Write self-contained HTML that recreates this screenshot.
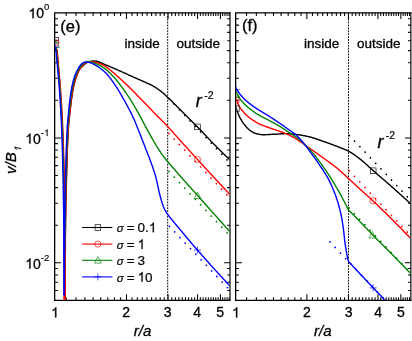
<!DOCTYPE html>
<html><head><meta charset="utf-8"><title>chart</title><style>html,body{margin:0;padding:0;background:#fff}body{width:412px;height:341px;overflow:hidden;font-family:"Liberation Sans",sans-serif}svg{will-change:transform}</style></head><body>
<svg width="412" height="341" viewBox="0 0 412 341" style="display:block" font-family="Liberation Sans, sans-serif" fill="#000"><style>text{stroke:#000;stroke-width:0.3px;stroke-linejoin:round}tspan,.s{stroke-width:0.15px}.l{stroke-width:0.2px}</style>
<rect width="412" height="341" fill="#fff"/>
<defs><clipPath id="ce"><rect x="55.3" y="13.5" width="174.1" height="286.2"/></clipPath><clipPath id="cf"><rect x="236.3" y="13.5" width="173.6" height="286.2"/></clipPath></defs>
<path d="M54.65,12.85 V300.35 H230.00 M54.65,12.85 H230.00" fill="none" stroke="#000" stroke-width="1.30" stroke-linecap="square"/><path d="M230.00,12.85 V300.35" fill="none" stroke="#000" stroke-width="1.15"/><path d="M54.65,137.90 h6.4 M230.00,137.90 h-5.9 M54.65,100.30 h3.3 M230.00,100.30 h-2.8 M54.65,78.31 h3.3 M230.00,78.31 h-2.8 M54.65,62.70 h3.3 M230.00,62.70 h-2.8 M54.65,50.60 h3.3 M230.00,50.60 h-2.8 M54.65,40.71 h3.3 M230.00,40.71 h-2.8 M54.65,32.35 h3.3 M230.00,32.35 h-2.8 M54.65,25.10 h3.3 M230.00,25.10 h-2.8 M54.65,18.72 h3.3 M230.00,18.72 h-2.8 M54.65,262.80 h6.4 M230.00,262.80 h-5.9 M54.65,225.20 h3.3 M230.00,225.20 h-2.8 M54.65,203.21 h3.3 M230.00,203.21 h-2.8 M54.65,187.60 h3.3 M230.00,187.60 h-2.8 M54.65,175.50 h3.3 M230.00,175.50 h-2.8 M54.65,165.61 h3.3 M230.00,165.61 h-2.8 M54.65,157.25 h3.3 M230.00,157.25 h-2.8 M54.65,150.00 h3.3 M230.00,150.00 h-2.8 M54.65,143.62 h3.3 M230.00,143.62 h-2.8 M54.65,290.51 h3.3 M230.00,290.51 h-2.8 M54.65,282.15 h3.3 M230.00,282.15 h-2.8 M54.65,274.90 h3.3 M230.00,274.90 h-2.8 M54.65,268.52 h3.3 M230.00,268.52 h-2.8 M66.20,12.85 v3.2 M66.20,300.35 v-3.2 M75.98,12.85 v3.2 M75.98,300.35 v-3.2 M84.90,12.85 v3.2 M84.90,300.35 v-3.2 M93.11,12.85 v3.2 M93.11,300.35 v-3.2 M100.70,12.85 v3.2 M100.70,300.35 v-3.2 M107.78,12.85 v3.2 M107.78,300.35 v-3.2 M114.40,12.85 v3.2 M114.40,300.35 v-3.2 M120.61,12.85 v3.2 M120.61,300.35 v-3.2 M126.47,12.85 v6.2 M126.47,300.35 v-6.2 M132.02,12.85 v3.2 M132.02,300.35 v-3.2 M137.28,12.85 v3.2 M137.28,300.35 v-3.2 M142.28,12.85 v3.2 M142.28,300.35 v-3.2 M147.05,12.85 v3.2 M147.05,300.35 v-3.2 M151.61,12.85 v3.2 M151.61,300.35 v-3.2 M155.97,12.85 v3.2 M155.97,300.35 v-3.2 M160.16,12.85 v3.2 M160.16,300.35 v-3.2 M164.18,12.85 v3.2 M164.18,300.35 v-3.2 M168.05,12.85 v6.2 M168.05,300.35 v-6.2 M171.78,12.85 v3.2 M171.78,300.35 v-3.2 M175.38,12.85 v3.2 M175.38,300.35 v-3.2 M178.85,12.85 v3.2 M178.85,300.35 v-3.2 M182.21,12.85 v3.2 M182.21,300.35 v-3.2 M185.47,12.85 v3.2 M185.47,300.35 v-3.2 M188.62,12.85 v3.2 M188.62,300.35 v-3.2 M191.69,12.85 v3.2 M191.69,300.35 v-3.2 M194.66,12.85 v3.2 M194.66,300.35 v-3.2 M197.55,12.85 v6.2 M197.55,300.35 v-6.2 M200.36,12.85 v3.2 M200.36,300.35 v-3.2 M203.09,12.85 v3.2 M203.09,300.35 v-3.2 M205.75,12.85 v3.2 M205.75,300.35 v-3.2 M208.35,12.85 v3.2 M208.35,300.35 v-3.2 M210.88,12.85 v3.2 M210.88,300.35 v-3.2 M213.35,12.85 v3.2 M213.35,300.35 v-3.2 M215.77,12.85 v3.2 M215.77,300.35 v-3.2 M218.12,12.85 v3.2 M218.12,300.35 v-3.2 M220.43,12.85 v6.2 M220.43,300.35 v-6.2 M222.68,12.85 v3.2 M222.68,300.35 v-3.2 M224.89,12.85 v3.2 M224.89,300.35 v-3.2 M227.04,12.85 v3.2 M227.04,300.35 v-3.2 M229.16,12.85 v3.2 M229.16,300.35 v-3.2 " stroke="#000" stroke-width="1.05" fill="none"/>
<path d="M235.65,12.85 V300.35 H410.85 M235.65,12.85 H410.85" fill="none" stroke="#000" stroke-width="1.30" stroke-linecap="square"/><path d="M410.85,12.85 V300.35" fill="none" stroke="#000" stroke-width="1.15"/><path d="M235.65,137.90 h6.4 M410.85,137.90 h-5.9 M235.65,100.30 h3.3 M410.85,100.30 h-2.8 M235.65,78.31 h3.3 M410.85,78.31 h-2.8 M235.65,62.70 h3.3 M410.85,62.70 h-2.8 M235.65,50.60 h3.3 M410.85,50.60 h-2.8 M235.65,40.71 h3.3 M410.85,40.71 h-2.8 M235.65,32.35 h3.3 M410.85,32.35 h-2.8 M235.65,25.10 h3.3 M410.85,25.10 h-2.8 M235.65,18.72 h3.3 M410.85,18.72 h-2.8 M235.65,262.80 h6.4 M410.85,262.80 h-5.9 M235.65,225.20 h3.3 M410.85,225.20 h-2.8 M235.65,203.21 h3.3 M410.85,203.21 h-2.8 M235.65,187.60 h3.3 M410.85,187.60 h-2.8 M235.65,175.50 h3.3 M410.85,175.50 h-2.8 M235.65,165.61 h3.3 M410.85,165.61 h-2.8 M235.65,157.25 h3.3 M410.85,157.25 h-2.8 M235.65,150.00 h3.3 M410.85,150.00 h-2.8 M235.65,143.62 h3.3 M410.85,143.62 h-2.8 M235.65,290.51 h3.3 M410.85,290.51 h-2.8 M235.65,282.15 h3.3 M410.85,282.15 h-2.8 M235.65,274.90 h3.3 M410.85,274.90 h-2.8 M235.65,268.52 h3.3 M410.85,268.52 h-2.8 M246.60,12.85 v3.2 M246.60,300.35 v-3.2 M256.38,12.85 v3.2 M256.38,300.35 v-3.2 M265.30,12.85 v3.2 M265.30,300.35 v-3.2 M273.51,12.85 v3.2 M273.51,300.35 v-3.2 M281.10,12.85 v3.2 M281.10,300.35 v-3.2 M288.18,12.85 v3.2 M288.18,300.35 v-3.2 M294.80,12.85 v3.2 M294.80,300.35 v-3.2 M301.01,12.85 v3.2 M301.01,300.35 v-3.2 M306.87,12.85 v6.2 M306.87,300.35 v-6.2 M312.42,12.85 v3.2 M312.42,300.35 v-3.2 M317.68,12.85 v3.2 M317.68,300.35 v-3.2 M322.68,12.85 v3.2 M322.68,300.35 v-3.2 M327.45,12.85 v3.2 M327.45,300.35 v-3.2 M332.01,12.85 v3.2 M332.01,300.35 v-3.2 M336.37,12.85 v3.2 M336.37,300.35 v-3.2 M340.56,12.85 v3.2 M340.56,300.35 v-3.2 M344.58,12.85 v3.2 M344.58,300.35 v-3.2 M348.45,12.85 v6.2 M348.45,300.35 v-6.2 M352.18,12.85 v3.2 M352.18,300.35 v-3.2 M355.78,12.85 v3.2 M355.78,300.35 v-3.2 M359.25,12.85 v3.2 M359.25,300.35 v-3.2 M362.61,12.85 v3.2 M362.61,300.35 v-3.2 M365.87,12.85 v3.2 M365.87,300.35 v-3.2 M369.02,12.85 v3.2 M369.02,300.35 v-3.2 M372.09,12.85 v3.2 M372.09,300.35 v-3.2 M375.06,12.85 v3.2 M375.06,300.35 v-3.2 M377.95,12.85 v6.2 M377.95,300.35 v-6.2 M380.76,12.85 v3.2 M380.76,300.35 v-3.2 M383.49,12.85 v3.2 M383.49,300.35 v-3.2 M386.15,12.85 v3.2 M386.15,300.35 v-3.2 M388.75,12.85 v3.2 M388.75,300.35 v-3.2 M391.28,12.85 v3.2 M391.28,300.35 v-3.2 M393.75,12.85 v3.2 M393.75,300.35 v-3.2 M396.17,12.85 v3.2 M396.17,300.35 v-3.2 M398.52,12.85 v3.2 M398.52,300.35 v-3.2 M400.83,12.85 v6.2 M400.83,300.35 v-6.2 M403.08,12.85 v3.2 M403.08,300.35 v-3.2 M405.29,12.85 v3.2 M405.29,300.35 v-3.2 M407.44,12.85 v3.2 M407.44,300.35 v-3.2 M409.56,12.85 v3.2 M409.56,300.35 v-3.2 " stroke="#000" stroke-width="1.05" fill="none"/>
<g clip-path="url(#ce)">
<path d="M167.7,13 V300.4" stroke="#000" stroke-width="1" stroke-dasharray="1.7 1.2" fill="none"/>
<path d="M169.0,98.6 L231.0,164.0" stroke="#000" stroke-width="1.75" stroke-dasharray="0.01 7.66" stroke-linecap="round" fill="none"/>
<path d="M168.9,133.5 L231.0,199.1" stroke="#ff0000" stroke-width="1.75" stroke-dasharray="0.01 7.66" stroke-linecap="round" fill="none"/>
<path d="M169.0,171.5 L231.0,237.0" stroke="#008000" stroke-width="1.75" stroke-dasharray="0.01 7.66" stroke-linecap="round" fill="none"/>
<path d="M169.4,226.4 L231.0,291.4" stroke="#0000ff" stroke-width="1.75" stroke-dasharray="0.01 7.66" stroke-linecap="round" fill="none"/>
<path d="M55.0,46.0 L55.4,47.0 L55.9,48.0 L56.2,49.0 L56.5,50.0 L56.7,51.0 L56.8,52.0 L57.0,53.0 L57.1,54.0 L57.2,55.0 L57.3,56.0 L57.4,57.0 L57.5,58.0 L57.6,59.0 L57.7,60.0 L57.8,61.0 L57.9,62.0 L57.9,63.0 L58.0,64.0 L58.1,65.0 L58.2,66.0 L58.3,67.0 L58.4,68.0 L58.5,69.0 L58.6,70.0 L58.7,71.0 L58.8,72.0 L58.9,73.0 L59.0,74.0 L59.0,75.0 L59.1,76.0 L59.2,77.0 L59.3,78.0 L59.4,79.0 L59.5,80.0 L59.6,81.0 L59.6,82.0 L59.7,83.0 L59.8,84.0 L59.9,85.0 L60.0,86.0 L60.0,87.0 L60.1,88.0 L60.2,89.0 L60.2,90.0 L60.3,91.0 L60.4,92.0 L60.4,93.0 L60.5,94.0 L60.6,95.0 L60.6,96.0 L60.7,97.0 L60.8,98.0 L60.8,99.0 L60.9,100.0 L61.0,101.0 L61.0,102.0 L61.1,103.0 L61.2,104.0 L61.2,105.0 L61.3,106.0 L61.4,107.0 L61.4,108.0 L61.5,109.0 L61.5,110.0 L61.6,111.0 L61.6,112.0 L61.7,113.0 L61.8,114.0 L61.8,115.0 L61.9,116.0 L61.9,117.0 L62.0,118.0 L62.0,119.0 L62.1,120.0 L62.1,121.0 L62.2,122.0 L62.2,123.0 L62.3,124.0 L62.3,125.0 L62.3,126.0 L62.4,127.0 L62.4,128.0 L62.5,129.0 L62.5,130.0 L62.5,131.0 L62.6,132.0 L62.6,133.0 L62.6,134.0 L62.7,135.0 L62.7,136.0 L62.8,137.0 L62.8,138.0 L62.8,139.0 L62.9,140.0 L62.9,141.0 L62.9,142.0 L63.0,143.0 L63.0,144.0 L63.0,145.0 L63.1,146.0 L63.1,147.0 L63.1,148.0 L63.2,149.0 L63.2,150.0 L63.2,151.0 L63.3,152.0 L63.3,153.0 L63.3,154.0 L63.3,155.0 L63.4,156.0 L63.4,157.0 L63.4,158.0 L63.4,159.0 L63.5,160.0 L63.5,161.0 L63.5,162.0 L63.6,163.0 L63.6,164.0 L63.6,165.0 L63.6,166.0 L63.6,167.0 L63.7,168.0 L63.7,169.0 L63.7,170.0 L63.7,171.0 L63.8,172.0 L63.8,173.0 L63.8,174.0 L63.8,175.0 L63.8,176.0 L63.8,177.0 L63.9,178.0 L63.9,179.0 L63.9,180.0 L63.9,181.0 L63.9,182.0 L63.9,183.0 L64.0,184.0 L64.0,185.0 L64.0,186.0 L64.0,187.0 L64.0,188.0 L64.0,189.0 L64.1,190.0 L64.1,191.0 L64.1,192.0 L64.1,193.0 L64.1,194.0 L64.1,195.0 L64.2,196.0 L64.2,197.0 L64.2,198.0 L64.2,199.0 L64.2,200.0 L64.2,201.0 L64.2,202.0 L64.2,203.0 L64.3,204.0 L64.3,205.0 L64.3,206.0 L64.3,207.0 L64.3,208.0 L64.3,209.0 L64.3,210.0 L64.3,211.0 L64.4,212.0 L64.4,213.0 L64.4,214.0 L64.4,215.0 L64.4,216.0 L64.4,217.0 L64.4,218.0 L64.4,219.0 L64.4,220.0 L64.4,221.0 L64.4,222.0 L64.4,223.0 L64.4,224.0 L64.4,225.0 L64.4,226.0 L64.4,227.0 L64.5,228.0 L64.5,229.0 L64.5,230.0 L64.5,231.0 L64.5,232.0 L64.5,233.0 L64.5,234.0 L64.5,235.0 L64.5,236.0 L64.5,237.0 L64.5,238.0 L64.5,239.0 L64.5,240.0 L64.5,241.0 L64.5,242.0 L64.5,243.0 L64.5,244.0 L64.5,245.0 L64.5,246.0 L64.5,247.0 L64.5,248.0 L64.5,249.0 L64.5,250.0 L64.5,251.0 L64.4,252.0 L64.4,253.0 L64.4,254.0 L64.4,255.0 L64.4,256.0 L64.4,257.0 L64.4,258.0 L64.4,259.0 L64.4,260.0 L64.4,261.0 L64.4,262.0 L64.4,263.0 L64.4,264.0 L64.4,265.0 L64.4,266.0 L64.4,267.0 L64.4,268.0 L64.4,269.0 L64.4,270.0 L64.4,271.0 L64.4,272.0 L64.4,273.0 L64.4,274.0 L64.4,275.0 L64.4,276.0 L64.4,277.0 L64.4,278.0 L64.4,279.0 L64.4,280.0 L64.4,281.0 L64.4,282.0 L64.4,283.0 L64.4,284.0 L64.4,285.0 L64.4,286.0 L64.4,287.0 L64.4,288.0 L64.4,289.0 L64.4,290.0 L64.4,291.0 L64.4,292.0 L64.7,292.0 L64.7,291.8 L64.7,290.8 L64.7,289.8 L64.7,288.8 L64.7,287.8 L64.7,286.8 L64.7,285.8 L64.7,284.8 L64.7,283.8 L64.7,282.8 L64.8,281.8 L64.8,280.8 L64.8,279.8 L64.8,278.8 L64.8,277.8 L64.8,276.8 L64.8,275.8 L64.8,274.8 L64.8,273.8 L64.8,272.8 L64.9,271.8 L64.9,270.8 L64.9,269.8 L64.9,268.8 L64.9,267.8 L64.9,266.8 L64.9,265.8 L64.9,264.8 L64.9,263.8 L65.0,262.8 L65.0,261.8 L65.0,260.8 L65.0,259.8 L65.0,258.8 L65.0,257.8 L65.0,256.8 L65.0,255.8 L65.1,254.8 L65.1,253.8 L65.1,252.8 L65.1,251.8 L65.1,250.8 L65.1,249.8 L65.1,248.8 L65.2,247.8 L65.2,246.8 L65.2,245.8 L65.2,244.8 L65.2,243.8 L65.2,242.8 L65.2,241.8 L65.3,240.8 L65.3,239.8 L65.3,238.8 L65.3,237.8 L65.3,236.8 L65.3,235.8 L65.3,234.8 L65.4,233.8 L65.4,232.8 L65.4,231.8 L65.4,230.8 L65.4,229.8 L65.4,228.8 L65.4,227.8 L65.5,226.8 L65.5,225.8 L65.5,224.8 L65.5,223.8 L65.5,222.8 L65.5,221.8 L65.6,220.8 L65.6,219.8 L65.6,218.8 L65.6,217.8 L65.6,216.8 L65.7,215.8 L65.7,214.8 L65.7,213.8 L65.7,212.8 L65.7,211.8 L65.7,210.8 L65.8,209.8 L65.8,208.8 L65.8,207.8 L65.8,206.8 L65.8,205.8 L65.9,204.8 L65.9,203.8 L65.9,202.8 L65.9,201.8 L65.9,200.8 L66.0,199.8 L66.0,198.8 L66.0,197.8 L66.0,196.8 L66.1,195.8 L66.1,194.8 L66.1,193.8 L66.1,192.8 L66.2,191.8 L66.2,190.8 L66.2,189.8 L66.2,188.8 L66.3,187.8 L66.3,186.8 L66.3,185.8 L66.3,184.8 L66.4,183.8 L66.4,182.8 L66.4,181.8 L66.4,180.8 L66.5,179.8 L66.5,178.8 L66.5,177.8 L66.5,176.8 L66.6,175.8 L66.6,174.8 L66.6,173.8 L66.6,172.8 L66.7,171.8 L66.7,170.8 L66.7,169.8 L66.8,168.8 L66.8,167.8 L66.8,166.8 L66.8,165.8 L66.9,164.8 L66.9,163.8 L66.9,162.8 L67.0,161.8 L67.0,160.8 L67.0,159.8 L67.1,158.8 L67.1,157.8 L67.1,156.8 L67.2,155.8 L67.2,154.8 L67.2,153.8 L67.3,152.8 L67.3,151.8 L67.3,150.8 L67.4,149.8 L67.4,148.8 L67.4,147.8 L67.5,146.8 L67.5,145.8 L67.6,144.8 L67.6,143.8 L67.6,142.8 L67.7,141.8 L67.7,140.8 L67.8,139.8 L67.8,138.8 L67.9,137.8 L67.9,136.8 L68.0,135.8 L68.0,134.8 L68.1,133.8 L68.1,132.8 L68.2,131.8 L68.2,130.8 L68.3,129.8 L68.4,128.8 L68.4,127.8 L68.5,126.8 L68.6,125.8 L68.7,124.8 L68.7,123.8 L68.8,122.8 L68.9,121.8 L69.0,120.8 L69.1,119.8 L69.2,118.8 L69.3,117.8 L69.5,116.8 L69.6,115.8 L69.7,114.8 L69.8,113.8 L69.9,112.8 L70.0,111.8 L70.1,110.8 L70.2,109.8 L70.4,108.8 L70.5,107.8 L70.6,106.8 L70.7,105.8 L70.8,104.8 L70.9,103.8 L71.1,102.8 L71.2,101.8 L71.3,100.8 L71.4,99.8 L71.6,98.8 L71.7,97.8 L71.9,96.8 L72.0,95.8 L72.2,94.8 L72.3,93.8 L72.5,92.8 L72.6,91.8 L72.8,90.8 L73.0,89.8 L73.2,88.8 L73.4,87.8 L73.6,86.8 L73.8,85.8 L74.1,84.8 L74.3,83.8 L74.6,82.8 L74.8,81.8 L75.1,80.8 L75.4,79.8 L75.7,78.8 L76.0,77.8 L76.4,76.8 L76.7,75.8 L77.1,74.8 L77.5,73.8 L77.9,72.8 L78.3,71.8 L78.8,70.8 L79.4,69.8 L80.0,68.8 L80.8,67.8 L81.8,66.8 L82.9,65.8 L84.0,64.8 L84.0,64.8 L84.5,64.4 L85.0,64.0 L85.5,63.6 L86.0,63.2 L86.5,62.9 L87.0,62.6 L87.5,62.4 L88.0,62.2 L88.5,62.0 L89.0,61.8 L89.5,61.6 L90.0,61.5 L90.5,61.4 L91.0,61.3 L91.5,61.2 L92.0,61.1 L92.5,61.1 L93.0,61.0 L93.5,61.0 L94.0,61.0 L94.5,61.0 L95.0,61.1 L95.5,61.2 L96.0,61.2 L96.5,61.3 L97.0,61.4 L97.5,61.5 L98.0,61.7 L98.5,61.8 L99.0,62.0 L99.5,62.2 L100.0,62.4 L100.5,62.6 L101.0,62.8 L101.5,63.0 L102.0,63.2 L102.5,63.4 L103.0,63.7 L103.5,63.9 L104.0,64.1 L104.5,64.3 L105.0,64.6 L105.5,64.8 L106.0,65.0 L106.5,65.2 L107.0,65.4 L107.5,65.6 L108.0,65.8 L108.5,66.0 L109.0,66.2 L109.5,66.4 L110.0,66.7 L110.5,66.9 L111.0,67.1 L111.5,67.3 L112.0,67.5 L112.5,67.7 L113.0,67.9 L113.5,68.1 L114.0,68.4 L114.5,68.6 L115.0,68.8 L115.5,69.0 L116.0,69.2 L116.5,69.4 L117.0,69.7 L117.5,69.9 L118.0,70.1 L118.5,70.3 L119.0,70.6 L119.5,70.8 L120.0,71.0 L120.5,71.2 L121.0,71.4 L121.5,71.7 L122.0,71.9 L122.5,72.1 L123.0,72.3 L123.5,72.6 L124.0,72.8 L124.5,73.0 L125.0,73.2 L125.5,73.5 L126.0,73.7 L126.5,73.9 L127.0,74.1 L127.5,74.4 L128.0,74.6 L128.5,74.8 L129.0,75.1 L129.5,75.3 L130.0,75.5 L130.5,75.7 L131.0,76.0 L131.5,76.2 L132.0,76.4 L132.5,76.7 L133.0,76.9 L133.5,77.1 L134.0,77.3 L134.5,77.5 L135.0,77.8 L135.5,78.0 L136.0,78.2 L136.5,78.4 L137.0,78.6 L137.5,78.8 L138.0,79.1 L138.5,79.3 L139.0,79.5 L139.5,79.7 L140.0,79.9 L140.5,80.2 L141.0,80.4 L141.5,80.6 L142.0,80.8 L142.5,81.0 L143.0,81.3 L143.5,81.5 L144.0,81.7 L144.5,81.9 L145.0,82.2 L145.5,82.4 L146.0,82.6 L146.5,82.8 L147.0,83.1 L147.5,83.3 L148.0,83.5 L148.5,83.7 L149.0,84.0 L149.5,84.2 L150.0,84.5 L150.5,84.7 L151.0,84.9 L151.5,85.2 L152.0,85.5 L152.5,85.7 L153.0,86.0 L153.5,86.3 L154.0,86.6 L154.5,86.9 L155.0,87.2 L155.5,87.5 L156.0,87.8 L156.5,88.1 L157.0,88.5 L157.5,88.8 L158.0,89.1 L158.5,89.5 L159.0,89.8 L159.5,90.2 L160.0,90.6 L160.5,91.0 L161.0,91.4 L161.5,91.8 L162.0,92.2 L162.5,92.6 L163.0,93.0 L163.5,93.4 L164.0,93.9 L164.5,94.3 L165.0,94.8 L165.5,95.3 L166.0,95.8 L166.5,96.2 L167.0,96.7 L167.5,97.2 L168.0,97.7 L168.5,98.2 L169.0,98.6 L169.5,99.1 L170.0,99.6 L170.5,100.1 L171.0,100.6 L171.5,101.1 L172.0,101.6 L172.5,102.1 L173.0,102.6 L173.5,103.0 L174.0,103.5 L174.5,104.0 L175.0,104.5 L175.5,105.0 L176.0,105.5 L176.5,106.0 L177.0,106.5 L177.5,107.0 L178.0,107.5 L178.5,108.0 L179.0,108.5 L179.5,109.0 L180.0,109.5 L180.5,110.0 L181.0,110.5 L181.5,111.0 L182.0,111.5 L182.5,112.0 L183.0,112.5 L183.5,113.0 L184.0,113.5 L184.5,114.0 L185.0,114.5 L185.5,115.0 L186.0,115.5 L186.5,116.0 L187.0,116.5 L187.5,117.0 L188.0,117.4 L188.5,117.9 L189.0,118.4 L189.5,118.9 L190.0,119.4 L190.5,119.9 L191.0,120.4 L191.5,120.9 L192.0,121.4 L192.5,121.9 L193.0,122.4 L193.5,122.9 L194.0,123.4 L194.5,123.9 L195.0,124.4 L195.5,124.9 L196.0,125.4 L196.5,125.9 L197.0,126.4 L197.5,126.9 L198.0,127.4 L198.5,127.9 L199.0,128.4 L199.5,129.0 L200.0,129.5 L200.5,130.0 L201.0,130.5 L201.5,131.1 L202.0,131.6 L202.5,132.1 L203.0,132.6 L203.5,133.2 L204.0,133.7 L204.5,134.2 L205.0,134.8 L205.5,135.3 L206.0,135.8 L206.5,136.4 L207.0,136.9 L207.5,137.4 L208.0,138.0 L208.5,138.5 L209.0,139.0 L209.5,139.6 L210.0,140.1 L210.5,140.6 L211.0,141.2 L211.5,141.7 L212.0,142.2 L212.5,142.7 L213.0,143.2 L213.5,143.8 L214.0,144.3 L214.5,144.8 L215.0,145.3 L215.5,145.8 L216.0,146.3 L216.5,146.8 L217.0,147.3 L217.5,147.8 L218.0,148.3 L218.5,148.8 L219.0,149.3 L219.5,149.8 L220.0,150.3 L220.5,150.8 L221.0,151.3 L221.5,151.8 L222.0,152.3 L222.5,152.8 L223.0,153.3 L223.5,153.8 L224.0,154.2 L224.5,154.7 L225.0,155.2 L225.5,155.7 L226.0,156.2 L226.5,156.7 L227.0,157.1 L227.5,157.6 L228.0,158.1 L228.5,158.6 L229.0,159.1 L229.5,159.5 L230.0,160.0 L230.3,160.3" stroke="#000" stroke-width="1.40" fill="none" stroke-linejoin="round"/>
<path d="M55.0,46.2 L55.6,47.2 L56.1,48.2 L56.6,49.2 L56.8,50.2 L57.0,51.2 L57.2,52.2 L57.3,53.2 L57.5,54.2 L57.6,55.2 L57.7,56.2 L57.8,57.2 L57.9,58.2 L58.0,59.2 L58.0,60.2 L58.1,61.2 L58.2,62.2 L58.3,63.2 L58.3,64.2 L58.4,65.2 L58.5,66.2 L58.6,67.2 L58.7,68.2 L58.8,69.2 L58.9,70.2 L59.0,71.2 L59.1,72.2 L59.2,73.2 L59.3,74.2 L59.4,75.2 L59.4,76.2 L59.5,77.2 L59.6,78.2 L59.7,79.2 L59.8,80.2 L59.9,81.2 L60.0,82.2 L60.0,83.2 L60.1,84.2 L60.2,85.2 L60.3,86.2 L60.3,87.2 L60.4,88.2 L60.5,89.2 L60.6,90.2 L60.6,91.2 L60.7,92.2 L60.8,93.2 L60.8,94.2 L60.9,95.2 L61.0,96.2 L61.0,97.2 L61.1,98.2 L61.2,99.2 L61.2,100.2 L61.3,101.2 L61.4,102.2 L61.4,103.2 L61.5,104.2 L61.5,105.2 L61.6,106.2 L61.7,107.2 L61.7,108.2 L61.8,109.2 L61.8,110.2 L61.9,111.2 L62.0,112.2 L62.0,113.2 L62.1,114.2 L62.1,115.2 L62.2,116.2 L62.2,117.2 L62.3,118.2 L62.3,119.2 L62.4,120.2 L62.4,121.2 L62.5,122.2 L62.5,123.2 L62.6,124.2 L62.6,125.2 L62.6,126.2 L62.7,127.2 L62.7,128.2 L62.8,129.2 L62.8,130.2 L62.8,131.2 L62.9,132.2 L62.9,133.2 L63.0,134.2 L63.0,135.2 L63.0,136.2 L63.1,137.2 L63.1,138.2 L63.1,139.2 L63.2,140.2 L63.2,141.2 L63.3,142.2 L63.3,143.2 L63.3,144.2 L63.4,145.2 L63.4,146.2 L63.4,147.2 L63.5,148.2 L63.5,149.2 L63.5,150.2 L63.6,151.2 L63.6,152.2 L63.6,153.2 L63.7,154.2 L63.7,155.2 L63.7,156.2 L63.7,157.2 L63.8,158.2 L63.8,159.2 L63.8,160.2 L63.9,161.2 L63.9,162.2 L63.9,163.2 L63.9,164.2 L64.0,165.2 L64.0,166.2 L64.0,167.2 L64.0,168.2 L64.0,169.2 L64.1,170.2 L64.1,171.2 L64.1,172.2 L64.1,173.2 L64.1,174.2 L64.1,175.2 L64.2,176.2 L64.2,177.2 L64.2,178.2 L64.2,179.2 L64.2,180.2 L64.2,181.2 L64.2,182.2 L64.2,183.2 L64.2,184.2 L64.2,185.2 L64.3,186.2 L64.3,187.2 L64.3,188.2 L64.3,189.2 L64.3,190.2 L64.3,191.2 L64.3,192.2 L64.3,193.2 L64.3,194.2 L64.3,195.2 L64.3,196.2 L64.3,197.2 L64.3,198.2 L64.4,199.2 L64.4,200.2 L64.4,201.2 L64.4,202.2 L64.4,203.2 L64.4,204.2 L64.4,205.2 L64.4,206.2 L64.4,207.2 L64.4,208.2 L64.4,209.2 L64.4,210.2 L64.4,211.2 L64.4,212.2 L64.4,213.2 L64.4,214.2 L64.4,215.2 L64.4,216.2 L64.4,217.2 L64.4,218.2 L64.4,219.2 L64.5,220.2 L64.5,221.2 L64.5,222.2 L64.5,223.2 L64.5,224.2 L64.5,225.2 L64.5,226.2 L64.5,227.2 L64.5,228.2 L64.5,229.2 L64.5,230.2 L64.5,231.2 L64.5,232.2 L64.5,233.2 L64.5,234.2 L64.5,235.2 L64.5,236.2 L64.5,237.2 L64.5,238.2 L64.5,239.2 L64.5,240.2 L64.5,241.2 L64.4,242.2 L64.4,243.2 L64.4,244.2 L64.4,245.2 L64.4,246.2 L64.4,247.2 L64.4,248.2 L64.4,249.2 L64.4,250.2 L64.4,251.2 L64.4,252.2 L64.4,253.2 L64.4,254.2 L64.4,255.2 L64.4,256.2 L64.4,257.2 L64.4,258.2 L64.4,259.2 L64.4,260.2 L64.4,261.2 L64.4,262.2 L64.4,263.2 L64.4,264.2 L64.4,265.2 L64.3,266.2 L64.3,267.2 L64.3,268.2 L64.3,269.2 L64.3,270.2 L64.3,271.2 L64.3,272.2 L64.3,273.2 L64.3,274.2 L64.3,275.2 L64.3,276.2 L64.3,277.2 L64.3,278.2 L64.2,279.2 L64.2,280.2 L64.2,281.2 L64.2,282.2 L64.2,283.2 L64.2,284.2 L64.2,285.2 L64.2,286.2 L64.2,287.2 L64.2,288.2 L64.1,289.2 L64.1,290.2 L64.1,291.2 L64.1,292.2 L64.1,293.2 L64.1,294.2 L64.1,295.2 L64.1,296.2 L64.0,297.2 L64.0,298.2 L64.0,299.2 L64.0,300.2 L64.0,301.0 L65.2,301.0 L65.3,300.8 L65.3,299.8 L65.3,298.8 L65.3,297.8 L65.3,296.8 L65.3,295.8 L65.3,294.8 L65.3,293.8 L65.3,292.8 L65.3,291.8 L65.3,290.8 L65.3,289.8 L65.3,288.8 L65.3,287.8 L65.3,286.8 L65.3,285.8 L65.3,284.8 L65.3,283.8 L65.3,282.8 L65.3,281.8 L65.3,280.8 L65.3,279.8 L65.3,278.8 L65.3,277.8 L65.3,276.8 L65.3,275.8 L65.3,274.8 L65.3,273.8 L65.3,272.8 L65.3,271.8 L65.3,270.8 L65.3,269.8 L65.3,268.8 L65.3,267.8 L65.3,266.8 L65.3,265.8 L65.3,264.8 L65.3,263.8 L65.3,262.8 L65.3,261.8 L65.3,260.8 L65.3,259.8 L65.3,258.8 L65.3,257.8 L65.3,256.8 L65.3,255.8 L65.3,254.8 L65.3,253.8 L65.3,252.8 L65.4,251.8 L65.4,250.8 L65.4,249.8 L65.4,248.8 L65.4,247.8 L65.4,246.8 L65.4,245.8 L65.4,244.8 L65.4,243.8 L65.4,242.8 L65.4,241.8 L65.4,240.8 L65.4,239.8 L65.4,238.8 L65.4,237.8 L65.4,236.8 L65.4,235.8 L65.4,234.8 L65.4,233.8 L65.4,232.8 L65.4,231.8 L65.4,230.8 L65.5,229.8 L65.5,228.8 L65.5,227.8 L65.5,226.8 L65.5,225.8 L65.5,224.8 L65.5,223.8 L65.5,222.8 L65.5,221.8 L65.5,220.8 L65.5,219.8 L65.6,218.8 L65.6,217.8 L65.6,216.8 L65.6,215.8 L65.6,214.8 L65.6,213.8 L65.6,212.8 L65.7,211.8 L65.7,210.8 L65.7,209.8 L65.7,208.8 L65.7,207.8 L65.7,206.8 L65.8,205.8 L65.8,204.8 L65.8,203.8 L65.8,202.8 L65.8,201.8 L65.9,200.8 L65.9,199.8 L65.9,198.8 L65.9,197.8 L66.0,196.8 L66.0,195.8 L66.0,194.8 L66.0,193.8 L66.0,192.8 L66.1,191.8 L66.1,190.8 L66.1,189.8 L66.1,188.8 L66.2,187.8 L66.2,186.8 L66.2,185.8 L66.2,184.8 L66.3,183.8 L66.3,182.8 L66.3,181.8 L66.3,180.8 L66.4,179.8 L66.4,178.8 L66.4,177.8 L66.4,176.8 L66.5,175.8 L66.5,174.8 L66.5,173.8 L66.5,172.8 L66.6,171.8 L66.6,170.8 L66.6,169.8 L66.6,168.8 L66.7,167.8 L66.7,166.8 L66.7,165.8 L66.7,164.8 L66.8,163.8 L66.8,162.8 L66.8,161.8 L66.9,160.8 L66.9,159.8 L66.9,158.8 L67.0,157.8 L67.0,156.8 L67.0,155.8 L67.1,154.8 L67.1,153.8 L67.1,152.8 L67.2,151.8 L67.2,150.8 L67.2,149.8 L67.3,148.8 L67.3,147.8 L67.4,146.8 L67.4,145.8 L67.4,144.8 L67.5,143.8 L67.5,142.8 L67.6,141.8 L67.6,140.8 L67.7,139.8 L67.7,138.8 L67.8,137.8 L67.8,136.8 L67.9,135.8 L67.9,134.8 L68.0,133.8 L68.0,132.8 L68.1,131.8 L68.1,130.8 L68.2,129.8 L68.2,128.8 L68.3,127.8 L68.4,126.8 L68.4,125.8 L68.5,124.8 L68.6,123.8 L68.7,122.8 L68.8,121.8 L68.9,120.8 L69.0,119.8 L69.1,118.8 L69.2,117.8 L69.3,116.8 L69.4,115.8 L69.5,114.8 L69.6,113.8 L69.8,112.8 L69.9,111.8 L70.0,110.8 L70.1,109.8 L70.2,108.8 L70.3,107.8 L70.4,106.8 L70.6,105.8 L70.7,104.8 L70.8,103.8 L70.9,102.8 L71.0,101.8 L71.2,100.8 L71.3,99.8 L71.4,98.8 L71.6,97.8 L71.7,96.8 L71.8,95.8 L72.0,94.8 L72.1,93.8 L72.3,92.8 L72.5,91.8 L72.6,90.8 L72.8,89.8 L73.0,88.8 L73.2,87.8 L73.4,86.8 L73.6,85.8 L73.9,84.8 L74.1,83.8 L74.4,82.8 L74.6,81.8 L74.9,80.8 L75.2,79.8 L75.5,78.8 L75.8,77.8 L76.2,76.8 L76.5,75.8 L76.9,74.8 L77.3,73.8 L77.7,72.8 L78.2,71.8 L78.7,70.8 L79.2,69.8 L79.8,68.8 L80.6,67.8 L81.4,66.8 L82.3,65.8 L83.3,64.8 L83.3,64.8 L83.8,64.4 L84.3,63.9 L84.8,63.5 L85.3,63.2 L85.8,62.9 L86.3,62.6 L86.8,62.4 L87.3,62.2 L87.8,62.0 L88.3,61.9 L88.8,61.7 L89.3,61.7 L89.8,61.6 L90.3,61.6 L90.8,61.6 L91.3,61.6 L91.8,61.6 L92.3,61.7 L92.8,61.7 L93.3,61.7 L93.8,61.8 L94.3,61.9 L94.8,62.0 L95.3,62.1 L95.8,62.3 L96.3,62.4 L96.8,62.6 L97.3,62.8 L97.8,62.9 L98.3,63.1 L98.8,63.3 L99.3,63.5 L99.8,63.6 L100.3,63.8 L100.8,64.0 L101.3,64.3 L101.8,64.5 L102.3,64.7 L102.8,65.0 L103.3,65.2 L103.8,65.5 L104.3,65.7 L104.8,66.0 L105.3,66.3 L105.8,66.6 L106.3,67.0 L106.8,67.3 L107.3,67.7 L107.8,68.1 L108.3,68.4 L108.8,68.8 L109.3,69.2 L109.8,69.7 L110.3,70.1 L110.8,70.5 L111.3,70.9 L111.8,71.3 L112.3,71.8 L112.8,72.2 L113.3,72.6 L113.8,73.0 L114.3,73.4 L114.8,73.9 L115.3,74.3 L115.8,74.7 L116.3,75.2 L116.8,75.6 L117.3,76.0 L117.8,76.5 L118.3,76.9 L118.8,77.4 L119.3,77.8 L119.8,78.3 L120.3,78.7 L120.8,79.2 L121.3,79.7 L121.8,80.1 L122.3,80.6 L122.8,81.1 L123.3,81.5 L123.8,82.0 L124.3,82.5 L124.8,82.9 L125.3,83.4 L125.8,83.9 L126.3,84.4 L126.8,84.9 L127.3,85.3 L127.8,85.8 L128.3,86.3 L128.8,86.8 L129.3,87.3 L129.8,87.8 L130.3,88.3 L130.8,88.8 L131.3,89.3 L131.8,89.8 L132.3,90.3 L132.8,90.8 L133.3,91.3 L133.8,91.8 L134.3,92.3 L134.8,92.8 L135.3,93.3 L135.8,93.8 L136.3,94.3 L136.8,94.9 L137.3,95.4 L137.8,95.9 L138.3,96.4 L138.8,96.9 L139.3,97.4 L139.8,97.9 L140.3,98.4 L140.8,98.9 L141.3,99.5 L141.8,100.0 L142.3,100.5 L142.8,101.0 L143.3,101.5 L143.8,102.0 L144.3,102.5 L144.8,103.0 L145.3,103.6 L145.8,104.1 L146.3,104.6 L146.8,105.1 L147.3,105.6 L147.8,106.2 L148.3,106.7 L148.8,107.2 L149.3,107.7 L149.8,108.2 L150.3,108.8 L150.8,109.3 L151.3,109.8 L151.8,110.3 L152.3,110.9 L152.8,111.4 L153.3,111.9 L153.8,112.4 L154.3,112.9 L154.8,113.5 L155.3,114.0 L155.8,114.5 L156.3,115.0 L156.8,115.5 L157.3,116.0 L157.8,116.5 L158.3,117.0 L158.8,117.5 L159.3,118.0 L159.8,118.5 L160.3,119.0 L160.8,119.5 L161.3,120.0 L161.8,120.5 L162.3,121.0 L162.8,121.5 L163.3,122.0 L163.8,122.5 L164.3,123.0 L164.8,123.5 L165.3,124.0 L165.8,124.5 L166.3,125.0 L166.8,125.6 L167.3,126.1 L167.8,126.6 L168.3,127.2 L168.8,127.7 L169.3,128.2 L169.8,128.8 L170.3,129.3 L170.8,129.9 L171.3,130.5 L171.8,131.0 L172.3,131.6 L172.8,132.1 L173.3,132.7 L173.8,133.3 L174.3,133.9 L174.8,134.4 L175.3,135.0 L175.8,135.6 L176.3,136.1 L176.8,136.7 L177.3,137.3 L177.8,137.8 L178.3,138.4 L178.8,138.9 L179.3,139.5 L179.8,140.1 L180.3,140.6 L180.8,141.2 L181.3,141.7 L181.8,142.3 L182.3,142.8 L182.8,143.4 L183.3,143.9 L183.8,144.5 L184.3,145.0 L184.8,145.6 L185.3,146.1 L185.8,146.7 L186.3,147.2 L186.8,147.8 L187.3,148.3 L187.8,148.9 L188.3,149.4 L188.8,150.0 L189.3,150.5 L189.8,151.1 L190.3,151.6 L190.8,152.2 L191.3,152.7 L191.8,153.3 L192.3,153.8 L192.8,154.4 L193.3,154.9 L193.8,155.5 L194.3,156.0 L194.8,156.6 L195.3,157.1 L195.8,157.7 L196.3,158.2 L196.8,158.7 L197.3,159.3 L197.8,159.8 L198.3,160.4 L198.8,160.9 L199.3,161.5 L199.8,162.0 L200.3,162.6 L200.8,163.1 L201.3,163.7 L201.8,164.2 L202.3,164.7 L202.8,165.3 L203.3,165.8 L203.8,166.4 L204.3,166.9 L204.8,167.5 L205.3,168.0 L205.8,168.6 L206.3,169.1 L206.8,169.6 L207.3,170.2 L207.8,170.7 L208.3,171.3 L208.8,171.8 L209.3,172.4 L209.8,172.9 L210.3,173.4 L210.8,174.0 L211.3,174.5 L211.8,175.1 L212.3,175.6 L212.8,176.1 L213.3,176.7 L213.8,177.2 L214.3,177.8 L214.8,178.3 L215.3,178.9 L215.8,179.4 L216.3,179.9 L216.8,180.5 L217.3,181.0 L217.8,181.6 L218.3,182.1 L218.8,182.6 L219.3,183.2 L219.8,183.7 L220.3,184.3 L220.8,184.8 L221.3,185.3 L221.8,185.9 L222.3,186.4 L222.8,186.9 L223.3,187.5 L223.8,188.0 L224.3,188.6 L224.8,189.1 L225.3,189.6 L225.8,190.2 L226.3,190.7 L226.8,191.2 L227.3,191.8 L227.8,192.3 L228.3,192.9 L228.8,193.4 L229.3,193.9 L229.8,194.5 L230.3,195.0" stroke="#ff0000" stroke-width="1.40" fill="none" stroke-linejoin="round"/>
<path d="M55.0,46.4 L55.4,47.4 L55.8,48.4 L56.1,49.4 L56.3,50.4 L56.4,51.4 L56.6,52.4 L56.7,53.4 L56.8,54.4 L57.0,55.4 L57.1,56.4 L57.2,57.4 L57.3,58.4 L57.3,59.4 L57.4,60.4 L57.5,61.4 L57.6,62.4 L57.7,63.4 L57.8,64.4 L57.8,65.4 L57.9,66.4 L58.0,67.4 L58.1,68.4 L58.2,69.4 L58.3,70.4 L58.4,71.4 L58.5,72.4 L58.6,73.4 L58.7,74.4 L58.8,75.4 L58.9,76.4 L59.0,77.4 L59.0,78.4 L59.1,79.4 L59.2,80.4 L59.3,81.4 L59.4,82.4 L59.5,83.4 L59.5,84.4 L59.6,85.4 L59.7,86.4 L59.8,87.4 L59.8,88.4 L59.9,89.4 L60.0,90.4 L60.0,91.4 L60.1,92.4 L60.2,93.4 L60.2,94.4 L60.3,95.4 L60.4,96.4 L60.4,97.4 L60.5,98.4 L60.6,99.4 L60.6,100.4 L60.7,101.4 L60.8,102.4 L60.8,103.4 L60.9,104.4 L61.0,105.4 L61.0,106.4 L61.1,107.4 L61.1,108.4 L61.2,109.4 L61.3,110.4 L61.3,111.4 L61.4,112.4 L61.4,113.4 L61.5,114.4 L61.5,115.4 L61.6,116.4 L61.6,117.4 L61.7,118.4 L61.7,119.4 L61.8,120.4 L61.8,121.4 L61.9,122.4 L61.9,123.4 L62.0,124.4 L62.0,125.4 L62.1,126.4 L62.1,127.4 L62.1,128.4 L62.2,129.4 L62.2,130.4 L62.3,131.4 L62.3,132.4 L62.3,133.4 L62.4,134.4 L62.4,135.4 L62.4,136.4 L62.5,137.4 L62.5,138.4 L62.5,139.4 L62.6,140.4 L62.6,141.4 L62.6,142.4 L62.7,143.4 L62.7,144.4 L62.7,145.4 L62.8,146.4 L62.8,147.4 L62.8,148.4 L62.9,149.4 L62.9,150.4 L62.9,151.4 L62.9,152.4 L63.0,153.4 L63.0,154.4 L63.0,155.4 L63.1,156.4 L63.1,157.4 L63.1,158.4 L63.1,159.4 L63.2,160.4 L63.2,161.4 L63.2,162.4 L63.2,163.4 L63.3,164.4 L63.3,165.4 L63.3,166.4 L63.3,167.4 L63.4,168.4 L63.4,169.4 L63.4,170.4 L63.4,171.4 L63.5,172.4 L63.5,173.4 L63.5,174.4 L63.5,175.4 L63.5,176.4 L63.6,177.4 L63.6,178.4 L63.6,179.4 L63.6,180.4 L63.6,181.4 L63.6,182.4 L63.7,183.4 L63.7,184.4 L63.7,185.4 L63.7,186.4 L63.7,187.4 L63.8,188.4 L63.8,189.4 L63.8,190.4 L63.8,191.4 L63.8,192.4 L63.8,193.4 L63.9,194.4 L63.9,195.4 L63.9,196.4 L63.9,197.4 L63.9,198.4 L63.9,199.4 L64.0,200.4 L64.0,201.4 L64.0,202.4 L64.0,203.4 L64.0,204.4 L64.0,205.4 L64.0,206.4 L64.1,207.4 L64.1,208.4 L64.1,209.4 L64.1,210.4 L64.1,211.4 L64.1,212.4 L64.1,213.4 L64.2,214.4 L64.2,215.4 L64.2,216.4 L64.2,217.4 L64.2,218.4 L64.2,219.4 L64.2,220.4 L64.2,221.4 L64.2,222.4 L64.2,223.4 L64.2,224.4 L64.3,225.4 L64.3,226.4 L64.3,227.4 L64.3,228.4 L64.3,229.4 L64.3,230.4 L64.3,231.4 L64.3,232.4 L64.3,233.4 L64.3,234.4 L64.3,235.4 L64.3,236.4 L64.3,237.4 L64.3,238.4 L64.3,239.4 L64.3,240.4 L64.3,241.4 L64.3,242.4 L64.3,243.4 L64.3,244.4 L64.3,245.4 L64.3,246.4 L64.3,247.4 L64.3,248.4 L64.3,249.4 L64.3,250.4 L64.3,251.4 L64.3,252.4 L64.4,253.4 L64.4,254.4 L64.4,255.4 L64.4,256.4 L64.4,257.4 L64.4,258.4 L64.4,259.4 L64.4,260.4 L64.4,261.4 L64.4,262.4 L64.4,263.4 L64.4,264.4 L64.4,265.4 L64.4,266.4 L64.4,267.4 L64.4,268.4 L64.4,269.4 L64.4,270.4 L64.4,271.4 L64.4,272.4 L64.4,273.4 L64.4,274.4 L64.4,275.4 L64.4,276.4 L64.4,277.4 L64.4,278.4 L64.4,279.4 L64.4,280.4 L64.4,281.4 L64.4,282.4 L64.4,283.4 L64.4,284.4 L64.4,285.4 L64.4,286.4 L64.4,287.4 L64.4,288.0 L64.4,288.0 L64.4,287.8 L64.4,286.8 L64.4,285.8 L64.4,284.8 L64.4,283.8 L64.4,282.8 L64.4,281.8 L64.4,280.8 L64.5,279.8 L64.5,278.8 L64.5,277.8 L64.5,276.8 L64.5,275.8 L64.5,274.8 L64.5,273.8 L64.5,272.8 L64.5,271.8 L64.5,270.8 L64.5,269.8 L64.6,268.8 L64.6,267.8 L64.6,266.8 L64.6,265.8 L64.6,264.8 L64.6,263.8 L64.6,262.8 L64.6,261.8 L64.6,260.8 L64.6,259.8 L64.7,258.8 L64.7,257.8 L64.7,256.8 L64.7,255.8 L64.7,254.8 L64.7,253.8 L64.7,252.8 L64.7,251.8 L64.7,250.8 L64.8,249.8 L64.8,248.8 L64.8,247.8 L64.8,246.8 L64.8,245.8 L64.8,244.8 L64.8,243.8 L64.8,242.8 L64.8,241.8 L64.9,240.8 L64.9,239.8 L64.9,238.8 L64.9,237.8 L64.9,236.8 L64.9,235.8 L64.9,234.8 L65.0,233.8 L65.0,232.8 L65.0,231.8 L65.0,230.8 L65.0,229.8 L65.0,228.8 L65.0,227.8 L65.0,226.8 L65.1,225.8 L65.1,224.8 L65.1,223.8 L65.1,222.8 L65.1,221.8 L65.1,220.8 L65.1,219.8 L65.2,218.8 L65.2,217.8 L65.2,216.8 L65.2,215.8 L65.2,214.8 L65.2,213.8 L65.3,212.8 L65.3,211.8 L65.3,210.8 L65.3,209.8 L65.3,208.8 L65.3,207.8 L65.4,206.8 L65.4,205.8 L65.4,204.8 L65.4,203.8 L65.4,202.8 L65.4,201.8 L65.5,200.8 L65.5,199.8 L65.5,198.8 L65.5,197.8 L65.5,196.8 L65.6,195.8 L65.6,194.8 L65.6,193.8 L65.6,192.8 L65.6,191.8 L65.7,190.8 L65.7,189.8 L65.7,188.8 L65.7,187.8 L65.7,186.8 L65.8,185.8 L65.8,184.8 L65.8,183.8 L65.8,182.8 L65.9,181.8 L65.9,180.8 L65.9,179.8 L65.9,178.8 L66.0,177.8 L66.0,176.8 L66.0,175.8 L66.0,174.8 L66.0,173.8 L66.1,172.8 L66.1,171.8 L66.1,170.8 L66.1,169.8 L66.2,168.8 L66.2,167.8 L66.2,166.8 L66.3,165.8 L66.3,164.8 L66.3,163.8 L66.3,162.8 L66.4,161.8 L66.4,160.8 L66.4,159.8 L66.5,158.8 L66.5,157.8 L66.5,156.8 L66.5,155.8 L66.6,154.8 L66.6,153.8 L66.6,152.8 L66.7,151.8 L66.7,150.8 L66.7,149.8 L66.8,148.8 L66.8,147.8 L66.9,146.8 L66.9,145.8 L66.9,144.8 L67.0,143.8 L67.0,142.8 L67.0,141.8 L67.1,140.8 L67.1,139.8 L67.2,138.8 L67.2,137.8 L67.3,136.8 L67.3,135.8 L67.4,134.8 L67.4,133.8 L67.5,132.8 L67.5,131.8 L67.6,130.8 L67.6,129.8 L67.7,128.8 L67.7,127.8 L67.8,126.8 L67.9,125.8 L67.9,124.8 L68.0,123.8 L68.1,122.8 L68.2,121.8 L68.3,120.8 L68.4,119.8 L68.5,118.8 L68.6,117.8 L68.7,116.8 L68.8,115.8 L68.9,114.8 L69.0,113.8 L69.1,112.8 L69.2,111.8 L69.3,110.8 L69.4,109.8 L69.5,108.8 L69.6,107.8 L69.7,106.8 L69.9,105.8 L70.0,104.8 L70.1,103.8 L70.2,102.8 L70.3,101.8 L70.4,100.8 L70.6,99.8 L70.7,98.8 L70.8,97.8 L70.9,96.8 L71.1,95.8 L71.2,94.8 L71.4,93.8 L71.5,92.8 L71.7,91.8 L71.9,90.8 L72.0,89.8 L72.2,88.8 L72.4,87.8 L72.6,86.8 L72.8,85.8 L73.0,84.8 L73.3,83.8 L73.5,82.8 L73.8,81.8 L74.1,80.8 L74.3,79.8 L74.6,78.8 L74.9,77.8 L75.3,76.8 L75.6,75.8 L76.0,74.8 L76.4,73.8 L76.8,72.8 L77.3,71.8 L77.8,70.8 L78.3,69.8 L78.9,68.8 L79.6,67.8 L80.3,66.8 L81.1,65.8 L82.0,64.8 L82.0,64.8 L82.5,64.3 L83.0,63.9 L83.5,63.5 L84.0,63.1 L84.5,62.8 L85.0,62.6 L85.5,62.4 L86.0,62.2 L86.5,62.1 L87.0,62.0 L87.5,61.9 L88.0,61.8 L88.5,61.8 L89.0,61.8 L89.5,61.9 L90.0,61.9 L90.5,62.0 L91.0,62.1 L91.5,62.2 L92.0,62.3 L92.5,62.4 L93.0,62.5 L93.5,62.7 L94.0,62.9 L94.5,63.1 L95.0,63.3 L95.5,63.5 L96.0,63.7 L96.5,63.9 L97.0,64.1 L97.5,64.4 L98.0,64.6 L98.5,64.8 L99.0,65.1 L99.5,65.3 L100.0,65.6 L100.5,65.9 L101.0,66.1 L101.5,66.4 L102.0,66.7 L102.5,67.0 L103.0,67.4 L103.5,67.7 L104.0,68.0 L104.5,68.4 L105.0,68.7 L105.5,69.1 L106.0,69.5 L106.5,69.9 L107.0,70.3 L107.5,70.8 L108.0,71.2 L108.5,71.7 L109.0,72.2 L109.5,72.6 L110.0,73.1 L110.5,73.6 L111.0,74.1 L111.5,74.6 L112.0,75.2 L112.5,75.7 L113.0,76.2 L113.5,76.8 L114.0,77.3 L114.5,77.8 L115.0,78.4 L115.5,79.0 L116.0,79.6 L116.5,80.2 L117.0,80.8 L117.5,81.4 L118.0,82.0 L118.5,82.7 L119.0,83.3 L119.5,84.0 L120.0,84.6 L120.5,85.3 L121.0,86.0 L121.5,86.6 L122.0,87.3 L122.5,88.0 L123.0,88.7 L123.5,89.4 L124.0,90.1 L124.5,90.8 L125.0,91.5 L125.5,92.2 L126.0,92.9 L126.5,93.6 L127.0,94.4 L127.5,95.1 L128.0,95.9 L128.5,96.6 L129.0,97.4 L129.5,98.1 L130.0,98.9 L130.5,99.7 L131.0,100.5 L131.5,101.3 L132.0,102.1 L132.5,102.9 L133.0,103.8 L133.5,104.6 L134.0,105.5 L134.5,106.3 L135.0,107.2 L135.5,108.1 L136.0,108.9 L136.5,109.8 L137.0,110.7 L137.5,111.6 L138.0,112.5 L138.5,113.4 L139.0,114.3 L139.5,115.2 L140.0,116.1 L140.5,117.0 L141.0,117.9 L141.5,118.9 L142.0,119.8 L142.5,120.7 L143.0,121.7 L143.5,122.6 L144.0,123.6 L144.5,124.5 L145.0,125.5 L145.5,126.4 L146.0,127.3 L146.5,128.3 L147.0,129.2 L147.5,130.1 L148.0,131.0 L148.5,131.9 L149.0,132.8 L149.5,133.7 L150.0,134.6 L150.5,135.5 L151.0,136.4 L151.5,137.3 L152.0,138.2 L152.5,139.1 L153.0,140.0 L153.5,140.8 L154.0,141.7 L154.5,142.6 L155.0,143.4 L155.5,144.3 L156.0,145.1 L156.5,146.0 L157.0,146.8 L157.5,147.6 L158.0,148.4 L158.5,149.2 L159.0,149.9 L159.5,150.7 L160.0,151.5 L160.5,152.2 L161.0,153.0 L161.5,153.7 L162.0,154.4 L162.5,155.1 L163.0,155.8 L163.5,156.5 L164.0,157.1 L164.5,157.8 L165.0,158.4 L165.5,159.0 L166.0,159.6 L166.5,160.2 L167.0,160.8 L167.5,161.4 L168.0,162.0 L168.5,162.6 L169.0,163.2 L169.5,163.8 L170.0,164.4 L170.5,165.0 L171.0,165.5 L171.5,166.1 L172.0,166.7 L172.5,167.3 L173.0,167.8 L173.5,168.4 L174.0,169.0 L174.5,169.6 L175.0,170.1 L175.5,170.7 L176.0,171.3 L176.5,171.8 L177.0,172.4 L177.5,173.0 L178.0,173.5 L178.5,174.1 L179.0,174.7 L179.5,175.2 L180.0,175.8 L180.5,176.4 L181.0,176.9 L181.5,177.5 L182.0,178.1 L182.5,178.6 L183.0,179.2 L183.5,179.8 L184.0,180.3 L184.5,180.9 L185.0,181.4 L185.5,182.0 L186.0,182.6 L186.5,183.1 L187.0,183.7 L187.5,184.2 L188.0,184.8 L188.5,185.4 L189.0,185.9 L189.5,186.5 L190.0,187.0 L190.5,187.6 L191.0,188.1 L191.5,188.7 L192.0,189.3 L192.5,189.8 L193.0,190.4 L193.5,190.9 L194.0,191.5 L194.5,192.0 L195.0,192.6 L195.5,193.2 L196.0,193.7 L196.5,194.3 L197.0,194.8 L197.5,195.4 L198.0,196.0 L198.5,196.5 L199.0,197.1 L199.5,197.6 L200.0,198.2 L200.5,198.8 L201.0,199.3 L201.5,199.9 L202.0,200.4 L202.5,201.0 L203.0,201.6 L203.5,202.1 L204.0,202.7 L204.5,203.2 L205.0,203.8 L205.5,204.4 L206.0,204.9 L206.5,205.5 L207.0,206.1 L207.5,206.6 L208.0,207.2 L208.5,207.7 L209.0,208.3 L209.5,208.9 L210.0,209.4 L210.5,210.0 L211.0,210.5 L211.5,211.1 L212.0,211.7 L212.5,212.2 L213.0,212.8 L213.5,213.3 L214.0,213.9 L214.5,214.5 L215.0,215.0 L215.5,215.6 L216.0,216.1 L216.5,216.7 L217.0,217.3 L217.5,217.8 L218.0,218.4 L218.5,219.0 L219.0,219.5 L219.5,220.1 L220.0,220.6 L220.5,221.2 L221.0,221.8 L221.5,222.3 L222.0,222.9 L222.5,223.4 L223.0,224.0 L223.5,224.6 L224.0,225.1 L224.5,225.7 L225.0,226.2 L225.5,226.8 L226.0,227.4 L226.5,227.9 L227.0,228.5 L227.5,229.1 L228.0,229.6 L228.5,230.2 L229.0,230.7 L229.5,231.3 L230.0,231.9 L230.3,232.2" stroke="#008000" stroke-width="1.40" fill="none" stroke-linejoin="round"/>
<path d="M55.0,46.6 L55.2,47.6 L55.4,48.6 L55.6,49.6 L55.8,50.6 L55.9,51.6 L56.1,52.6 L56.2,53.6 L56.3,54.6 L56.4,55.6 L56.5,56.6 L56.6,57.6 L56.7,58.6 L56.8,59.6 L56.9,60.6 L57.0,61.6 L57.1,62.6 L57.2,63.6 L57.3,64.6 L57.4,65.6 L57.5,66.6 L57.6,67.6 L57.6,68.6 L57.7,69.6 L57.8,70.6 L57.9,71.6 L58.0,72.6 L58.1,73.6 L58.2,74.6 L58.3,75.6 L58.4,76.6 L58.5,77.6 L58.6,78.6 L58.6,79.6 L58.7,80.6 L58.8,81.6 L58.9,82.6 L59.0,83.6 L59.0,84.6 L59.1,85.6 L59.2,86.6 L59.3,87.6 L59.3,88.6 L59.4,89.6 L59.5,90.6 L59.6,91.6 L59.6,92.6 L59.7,93.6 L59.8,94.6 L59.8,95.6 L59.9,96.6 L60.0,97.6 L60.0,98.6 L60.1,99.6 L60.2,100.6 L60.2,101.6 L60.3,102.6 L60.3,103.6 L60.4,104.6 L60.5,105.6 L60.5,106.6 L60.6,107.6 L60.6,108.6 L60.7,109.6 L60.8,110.6 L60.8,111.6 L60.9,112.6 L60.9,113.6 L61.0,114.6 L61.0,115.6 L61.1,116.6 L61.1,117.6 L61.2,118.6 L61.2,119.6 L61.3,120.6 L61.3,121.6 L61.4,122.6 L61.4,123.6 L61.5,124.6 L61.5,125.6 L61.6,126.6 L61.6,127.6 L61.6,128.6 L61.7,129.6 L61.7,130.6 L61.8,131.6 L61.8,132.6 L61.8,133.6 L61.9,134.6 L61.9,135.6 L61.9,136.6 L62.0,137.6 L62.0,138.6 L62.0,139.6 L62.1,140.6 L62.1,141.6 L62.1,142.6 L62.2,143.6 L62.2,144.6 L62.2,145.6 L62.3,146.6 L62.3,147.6 L62.3,148.6 L62.4,149.6 L62.4,150.6 L62.4,151.6 L62.5,152.6 L62.5,153.6 L62.5,154.6 L62.5,155.6 L62.6,156.6 L62.6,157.6 L62.6,158.6 L62.6,159.6 L62.7,160.6 L62.7,161.6 L62.7,162.6 L62.7,163.6 L62.8,164.6 L62.8,165.6 L62.8,166.6 L62.8,167.6 L62.9,168.6 L62.9,169.6 L62.9,170.6 L62.9,171.6 L63.0,172.6 L63.0,173.6 L63.0,174.6 L63.0,175.6 L63.0,176.6 L63.1,177.6 L63.1,178.6 L63.1,179.6 L63.1,180.6 L63.1,181.6 L63.1,182.6 L63.2,183.6 L63.2,184.6 L63.2,185.6 L63.2,186.6 L63.2,187.6 L63.3,188.6 L63.3,189.6 L63.3,190.6 L63.3,191.6 L63.3,192.6 L63.3,193.6 L63.4,194.6 L63.4,195.6 L63.4,196.6 L63.4,197.6 L63.4,198.6 L63.4,199.6 L63.5,200.6 L63.5,201.6 L63.5,202.6 L63.5,203.6 L63.5,204.6 L63.5,205.6 L63.6,206.6 L63.6,207.6 L63.6,208.6 L63.6,209.6 L63.6,210.6 L63.6,211.6 L63.6,212.6 L63.6,213.6 L63.7,214.6 L63.7,215.6 L63.7,216.6 L63.7,217.6 L63.7,218.6 L63.7,219.6 L63.7,220.6 L63.7,221.6 L63.7,222.6 L63.7,223.6 L63.7,224.6 L63.8,225.6 L63.8,226.6 L63.8,227.6 L63.8,228.6 L63.8,229.6 L63.8,230.6 L63.8,231.6 L63.8,232.6 L63.8,233.6 L63.8,234.6 L63.8,235.6 L63.8,236.6 L63.8,237.6 L63.8,238.6 L63.8,239.6 L63.8,240.6 L63.8,241.6 L63.8,242.6 L63.8,243.6 L63.8,244.6 L63.8,245.6 L63.8,246.6 L63.8,247.6 L63.8,248.6 L63.8,249.6 L63.8,250.6 L63.8,251.6 L63.8,252.6 L63.8,253.6 L63.8,254.6 L63.9,255.6 L63.9,256.6 L63.9,257.6 L63.9,258.6 L63.9,259.6 L63.9,260.6 L63.9,261.6 L63.9,262.6 L63.9,263.6 L63.9,264.6 L63.9,265.6 L63.9,266.6 L63.9,267.6 L63.9,268.6 L63.9,269.6 L63.9,270.6 L63.9,271.6 L63.9,272.6 L63.9,273.6 L63.9,274.6 L63.9,275.6 L63.9,276.6 L63.9,277.6 L63.9,278.6 L63.9,279.6 L63.9,280.6 L63.9,281.6 L63.9,282.6 L63.9,283.6 L63.9,284.6 L63.9,285.6 L63.9,286.6 L63.9,287.6 L63.9,288.6 L63.9,289.6 L63.9,290.6 L63.9,291.6 L63.9,292.6 L63.9,293.6 L63.9,294.6 L63.9,295.0 L64.2,295.0 L64.2,294.0 L64.2,293.0 L64.2,292.0 L64.2,291.0 L64.2,290.0 L64.2,289.0 L64.2,288.0 L64.2,287.0 L64.2,286.0 L64.2,285.0 L64.2,284.0 L64.2,283.0 L64.3,282.0 L64.3,281.0 L64.3,280.0 L64.3,279.0 L64.3,278.0 L64.3,277.0 L64.3,276.0 L64.3,275.0 L64.3,274.0 L64.3,273.0 L64.3,272.0 L64.3,271.0 L64.3,270.0 L64.3,269.0 L64.3,268.0 L64.4,267.0 L64.4,266.0 L64.4,265.0 L64.4,264.0 L64.4,263.0 L64.4,262.0 L64.4,261.0 L64.4,260.0 L64.4,259.0 L64.4,258.0 L64.4,257.0 L64.4,256.0 L64.5,255.0 L64.5,254.0 L64.5,253.0 L64.5,252.0 L64.5,251.0 L64.5,250.0 L64.5,249.0 L64.5,248.0 L64.5,247.0 L64.5,246.0 L64.5,245.0 L64.6,244.0 L64.6,243.0 L64.6,242.0 L64.6,241.0 L64.6,240.0 L64.6,239.0 L64.6,238.0 L64.6,237.0 L64.6,236.0 L64.6,235.0 L64.7,234.0 L64.7,233.0 L64.7,232.0 L64.7,231.0 L64.7,230.0 L64.7,229.0 L64.7,228.0 L64.7,227.0 L64.7,226.0 L64.8,225.0 L64.8,224.0 L64.8,223.0 L64.8,222.0 L64.8,221.0 L64.8,220.0 L64.8,219.0 L64.8,218.0 L64.9,217.0 L64.9,216.0 L64.9,215.0 L64.9,214.0 L64.9,213.0 L64.9,212.0 L64.9,211.0 L65.0,210.0 L65.0,209.0 L65.0,208.0 L65.0,207.0 L65.0,206.0 L65.0,205.0 L65.0,204.0 L65.1,203.0 L65.1,202.0 L65.1,201.0 L65.1,200.0 L65.1,199.0 L65.2,198.0 L65.2,197.0 L65.2,196.0 L65.2,195.0 L65.2,194.0 L65.2,193.0 L65.3,192.0 L65.3,191.0 L65.3,190.0 L65.3,189.0 L65.3,188.0 L65.4,187.0 L65.4,186.0 L65.4,185.0 L65.4,184.0 L65.4,183.0 L65.5,182.0 L65.5,181.0 L65.5,180.0 L65.5,179.0 L65.5,178.0 L65.6,177.0 L65.6,176.0 L65.6,175.0 L65.6,174.0 L65.7,173.0 L65.7,172.0 L65.7,171.0 L65.7,170.0 L65.7,169.0 L65.8,168.0 L65.8,167.0 L65.8,166.0 L65.8,165.0 L65.9,164.0 L65.9,163.0 L65.9,162.0 L66.0,161.0 L66.0,160.0 L66.0,159.0 L66.0,158.0 L66.1,157.0 L66.1,156.0 L66.1,155.0 L66.2,154.0 L66.2,153.0 L66.2,152.0 L66.2,151.0 L66.3,150.0 L66.3,149.0 L66.3,148.0 L66.4,147.0 L66.4,146.0 L66.5,145.0 L66.5,144.0 L66.5,143.0 L66.6,142.0 L66.6,141.0 L66.6,140.0 L66.7,139.0 L66.7,138.0 L66.8,137.0 L66.8,136.0 L66.9,135.0 L66.9,134.0 L67.0,133.0 L67.0,132.0 L67.1,131.0 L67.1,130.0 L67.2,129.0 L67.2,128.0 L67.3,127.0 L67.3,126.0 L67.4,125.0 L67.5,124.0 L67.6,123.0 L67.6,122.0 L67.7,121.0 L67.8,120.0 L67.9,119.0 L68.0,118.0 L68.1,117.0 L68.2,116.0 L68.3,115.0 L68.4,114.0 L68.5,113.0 L68.6,112.0 L68.7,111.0 L68.8,110.0 L68.9,109.0 L69.0,108.0 L69.1,107.0 L69.2,106.0 L69.3,105.0 L69.4,104.0 L69.5,103.0 L69.6,102.0 L69.8,101.0 L69.9,100.0 L70.0,99.0 L70.1,98.0 L70.3,97.0 L70.4,96.0 L70.5,95.0 L70.7,94.0 L70.8,93.0 L71.0,92.0 L71.1,91.0 L71.3,90.0 L71.5,89.0 L71.7,88.0 L71.8,87.0 L72.1,86.0 L72.3,85.0 L72.5,84.0 L72.7,83.0 L73.0,82.0 L73.2,81.0 L73.5,80.0 L73.8,79.0 L74.1,78.0 L74.4,77.0 L74.7,76.0 L75.1,75.0 L75.5,74.0 L76.0,73.0 L76.4,72.0 L76.9,71.0 L77.4,70.0 L78.0,69.0 L78.5,68.0 L79.2,67.0 L79.8,66.0 L80.5,65.0 L80.5,65.0 L81.0,64.5 L81.5,64.0 L82.0,63.5 L82.5,63.1 L83.0,62.8 L83.5,62.6 L84.0,62.4 L84.5,62.3 L85.0,62.1 L85.5,62.0 L86.0,62.0 L86.5,62.0 L87.0,62.1 L87.5,62.1 L88.0,62.2 L88.5,62.3 L89.0,62.4 L89.5,62.5 L90.0,62.7 L90.5,62.8 L91.0,63.0 L91.5,63.2 L92.0,63.4 L92.5,63.7 L93.0,63.9 L93.5,64.2 L94.0,64.4 L94.5,64.7 L95.0,65.0 L95.5,65.2 L96.0,65.5 L96.5,65.8 L97.0,66.1 L97.5,66.4 L98.0,66.7 L98.5,67.0 L99.0,67.4 L99.5,67.7 L100.0,68.1 L100.5,68.4 L101.0,68.8 L101.5,69.2 L102.0,69.6 L102.5,70.0 L103.0,70.4 L103.5,70.8 L104.0,71.2 L104.5,71.7 L105.0,72.2 L105.5,72.6 L106.0,73.1 L106.5,73.7 L107.0,74.2 L107.5,74.8 L108.0,75.4 L108.5,76.0 L109.0,76.6 L109.5,77.2 L110.0,77.9 L110.5,78.5 L111.0,79.2 L111.5,79.9 L112.0,80.6 L112.5,81.3 L113.0,82.0 L113.5,82.7 L114.0,83.4 L114.5,84.1 L115.0,84.8 L115.5,85.5 L116.0,86.3 L116.5,87.1 L117.0,87.9 L117.5,88.7 L118.0,89.5 L118.5,90.3 L119.0,91.1 L119.5,92.0 L120.0,92.8 L120.5,93.7 L121.0,94.6 L121.5,95.4 L122.0,96.3 L122.5,97.2 L123.0,98.1 L123.5,99.0 L124.0,99.9 L124.5,100.7 L125.0,101.6 L125.5,102.5 L126.0,103.4 L126.5,104.3 L127.0,105.3 L127.5,106.2 L128.0,107.1 L128.5,108.1 L129.0,109.0 L129.5,110.0 L130.0,110.9 L130.5,111.9 L131.0,112.9 L131.5,113.9 L132.0,115.0 L132.5,116.0 L133.0,117.1 L133.5,118.2 L134.0,119.3 L134.5,120.4 L135.0,121.6 L135.5,122.8 L136.0,124.0 L136.5,125.2 L137.0,126.5 L137.5,127.7 L138.0,129.0 L138.5,130.3 L139.0,131.5 L139.5,132.8 L140.0,134.0 L140.5,135.3 L141.0,136.6 L141.5,137.9 L142.0,139.2 L142.5,140.4 L143.0,141.7 L143.5,143.0 L144.0,144.3 L144.5,145.6 L145.0,146.9 L145.5,148.2 L146.0,149.5 L146.5,150.7 L147.0,152.0 L147.5,153.3 L148.0,154.5 L148.5,155.8 L149.0,157.1 L149.5,158.4 L150.0,159.8 L150.5,161.1 L151.0,162.5 L151.5,163.9 L152.0,165.3 L152.5,166.7 L153.0,168.1 L153.5,169.6 L154.0,171.1 L154.5,172.6 L155.0,174.2 L155.5,175.9 L156.0,177.8 L156.5,179.8 L157.0,182.1 L157.5,184.4 L158.0,186.9 L158.5,189.2 L159.0,191.5 L159.5,193.5 L160.0,195.4 L160.5,197.3 L161.0,199.1 L161.5,200.8 L162.0,202.4 L162.5,204.0 L163.0,205.4 L163.5,206.7 L164.0,207.9 L164.5,209.0 L165.0,210.0 L165.5,210.9 L166.0,211.8 L166.5,212.7 L167.0,213.5 L167.5,214.3 L167.6,214.4 L168.1,215.0 L168.6,215.6 L169.1,216.2 L169.6,216.9 L170.1,217.5 L170.6,218.1 L171.1,218.7 L171.6,219.3 L172.1,219.9 L172.6,220.5 L173.1,221.2 L173.6,221.8 L174.1,222.4 L174.6,223.0 L175.1,223.6 L175.6,224.2 L176.1,224.8 L176.6,225.4 L177.1,226.0 L177.6,226.6 L178.1,227.2 L178.6,227.8 L179.1,228.4 L179.6,229.0 L180.1,229.6 L180.6,230.2 L181.1,230.8 L181.6,231.4 L182.1,232.0 L182.6,232.6 L183.1,233.2 L183.6,233.8 L184.1,234.4 L184.6,235.0 L185.1,235.6 L185.6,236.2 L186.1,236.8 L186.6,237.4 L187.1,238.0 L187.6,238.6 L188.1,239.2 L188.6,239.8 L189.1,240.3 L189.6,240.9 L190.1,241.5 L190.6,242.1 L191.1,242.7 L191.6,243.3 L192.1,243.9 L192.6,244.5 L193.1,245.0 L193.6,245.6 L194.1,246.2 L194.6,246.8 L195.1,247.4 L195.6,247.9 L196.1,248.5 L196.6,249.1 L197.1,249.7 L197.6,250.2 L198.1,250.8 L198.6,251.4 L199.1,251.9 L199.6,252.5 L200.1,253.1 L200.6,253.6 L201.1,254.2 L201.6,254.8 L202.1,255.4 L202.6,255.9 L203.1,256.5 L203.6,257.1 L204.1,257.6 L204.6,258.2 L205.1,258.7 L205.6,259.3 L206.1,259.9 L206.6,260.4 L207.1,261.0 L207.6,261.6 L208.1,262.1 L208.6,262.7 L209.1,263.2 L209.6,263.8 L210.1,264.4 L210.6,264.9 L211.1,265.5 L211.6,266.0 L212.1,266.6 L212.6,267.1 L213.1,267.7 L213.6,268.2 L214.1,268.8 L214.6,269.3 L215.1,269.9 L215.6,270.4 L216.1,271.0 L216.6,271.5 L217.1,272.1 L217.6,272.6 L218.1,273.2 L218.6,273.7 L219.1,274.3 L219.6,274.8 L220.1,275.4 L220.6,275.9 L221.1,276.5 L221.6,277.0 L222.1,277.5 L222.6,278.1 L223.1,278.6 L223.6,279.2 L224.1,279.7 L224.6,280.2 L225.1,280.8 L225.6,281.3 L226.1,281.8 L226.6,282.4 L227.1,282.9 L227.6,283.4 L228.1,284.0 L228.6,284.5 L229.1,285.0 L229.6,285.6 L230.1,286.1 L230.3,286.3" stroke="#0000ff" stroke-width="1.40" fill="none" stroke-linejoin="round"/>
<rect x="52.90" y="37.40" width="5.6" height="5.6" fill="none" stroke="#000" stroke-width="0.65"/>
<circle cx="55.90" cy="42.80" r="3.1" fill="none" stroke="#ff0000" stroke-width="0.65"/>
<path d="M55.90,40.90 L59.30,47.40 L52.50,47.40 Z" fill="none" stroke="#008000" stroke-width="0.65"/>
<path d="M52.20,47.10 H59.20 M55.70,43.60 V50.60" fill="none" stroke="#0000ff" stroke-width="0.65"/>
<rect x="194.70" y="124.10" width="5.6" height="5.6" fill="none" stroke="#000" stroke-width="0.65"/>
<circle cx="197.50" cy="159.50" r="3.1" fill="none" stroke="#ff0000" stroke-width="0.65"/>
<path d="M197.50,192.00 L200.90,198.50 L194.10,198.50 Z" fill="none" stroke="#008000" stroke-width="0.65"/>
<path d="M194.00,250.00 H201.00 M197.50,246.50 V253.50" fill="none" stroke="#0000ff" stroke-width="0.65"/>
</g>
<g clip-path="url(#cf)">
<path d="M348.5,13 V300.4" stroke="#000" stroke-width="1" stroke-dasharray="1.7 1.2" fill="none"/>
<path d="M349.3,135.5 L411.0,200.6" stroke="#000" stroke-width="1.75" stroke-dasharray="0.01 7.66" stroke-linecap="round" fill="none"/>
<path d="M349.2,170.8 L411.0,236.0" stroke="#ff0000" stroke-width="1.75" stroke-dasharray="0.01 7.66" stroke-linecap="round" fill="none"/>
<path d="M349.1,208.0 L411.0,273.3" stroke="#008000" stroke-width="1.75" stroke-dasharray="0.01 7.66" stroke-linecap="round" fill="none"/>
<path d="M329.9,241.9 L386.0,301.1" stroke="#0000ff" stroke-width="1.75" stroke-dasharray="0.01 7.66" stroke-linecap="round" fill="none"/>
<path d="M235.6,106.2 L236.1,107.9 L236.6,109.4 L237.1,110.9 L237.6,112.3 L238.1,113.5 L238.6,114.7 L239.1,115.8 L239.6,116.9 L240.1,117.9 L240.6,118.8 L241.1,119.7 L241.6,120.6 L242.1,121.4 L242.6,122.1 L243.1,122.9 L243.6,123.6 L244.1,124.2 L244.6,124.8 L245.1,125.4 L245.6,126.0 L246.1,126.6 L246.6,127.2 L247.1,127.7 L247.6,128.2 L248.1,128.8 L248.6,129.2 L249.1,129.7 L249.6,130.1 L250.1,130.4 L250.6,130.8 L251.1,131.2 L251.6,131.5 L252.1,131.8 L252.6,132.1 L253.1,132.4 L253.6,132.7 L254.1,132.9 L254.6,133.1 L255.1,133.3 L255.6,133.4 L256.1,133.6 L256.6,133.7 L257.1,133.8 L257.6,133.9 L258.1,134.1 L258.6,134.2 L259.1,134.3 L259.6,134.4 L260.1,134.5 L260.6,134.5 L261.1,134.6 L261.6,134.6 L262.1,134.7 L262.6,134.7 L263.1,134.7 L263.6,134.7 L264.1,134.7 L264.6,134.7 L265.1,134.7 L265.6,134.7 L266.1,134.6 L266.6,134.6 L267.1,134.6 L267.6,134.6 L268.1,134.6 L268.6,134.5 L269.1,134.5 L269.6,134.5 L270.1,134.5 L270.6,134.4 L271.1,134.4 L271.6,134.4 L272.1,134.3 L272.6,134.3 L273.1,134.3 L273.6,134.3 L274.1,134.2 L274.6,134.2 L275.1,134.2 L275.6,134.2 L276.1,134.1 L276.6,134.1 L277.1,134.1 L277.6,134.0 L278.1,134.0 L278.6,134.0 L279.1,133.9 L279.6,133.9 L280.1,133.9 L280.6,133.8 L281.1,133.8 L281.6,133.8 L282.1,133.7 L282.6,133.7 L283.1,133.7 L283.6,133.7 L284.1,133.6 L284.6,133.6 L285.1,133.6 L285.6,133.6 L286.1,133.6 L286.6,133.6 L287.1,133.6 L287.6,133.6 L288.1,133.6 L288.6,133.7 L289.1,133.7 L289.6,133.7 L290.1,133.8 L290.6,133.8 L291.1,133.9 L291.6,133.9 L292.1,134.0 L292.6,134.0 L293.1,134.1 L293.6,134.1 L294.1,134.2 L294.6,134.3 L295.1,134.3 L295.6,134.4 L296.1,134.5 L296.6,134.5 L297.1,134.6 L297.6,134.6 L298.1,134.7 L298.6,134.8 L299.1,134.8 L299.6,134.9 L300.1,135.0 L300.6,135.1 L301.1,135.2 L301.6,135.2 L302.1,135.3 L302.6,135.4 L303.1,135.5 L303.6,135.6 L304.1,135.7 L304.6,135.8 L305.1,135.9 L305.6,136.0 L306.1,136.1 L306.6,136.2 L307.1,136.3 L307.6,136.4 L308.1,136.6 L308.6,136.7 L309.1,136.8 L309.6,136.9 L310.1,137.0 L310.6,137.2 L311.1,137.3 L311.6,137.4 L312.1,137.6 L312.6,137.7 L313.1,137.9 L313.6,138.0 L314.1,138.2 L314.6,138.4 L315.1,138.5 L315.6,138.7 L316.1,138.9 L316.6,139.0 L317.1,139.2 L317.6,139.4 L318.1,139.6 L318.6,139.7 L319.1,139.9 L319.6,140.1 L320.1,140.2 L320.6,140.4 L321.1,140.6 L321.6,140.8 L322.1,140.9 L322.6,141.1 L323.1,141.3 L323.6,141.4 L324.1,141.6 L324.6,141.8 L325.1,142.0 L325.6,142.2 L326.1,142.3 L326.6,142.5 L327.1,142.7 L327.6,142.9 L328.1,143.1 L328.6,143.2 L329.1,143.4 L329.6,143.6 L330.1,143.8 L330.6,144.0 L331.1,144.2 L331.6,144.3 L332.1,144.5 L332.6,144.7 L333.1,144.9 L333.6,145.1 L334.1,145.3 L334.6,145.5 L335.1,145.7 L335.6,145.9 L336.1,146.0 L336.6,146.2 L337.1,146.4 L337.6,146.6 L338.1,146.8 L338.6,147.0 L339.1,147.2 L339.6,147.4 L340.1,147.6 L340.6,147.8 L341.1,148.0 L341.6,148.2 L342.1,148.4 L342.6,148.6 L343.1,148.7 L343.6,148.9 L344.1,149.1 L344.6,149.4 L345.1,149.6 L345.6,149.8 L346.1,150.0 L346.6,150.2 L347.1,150.5 L347.6,150.7 L348.1,150.9 L348.6,151.2 L349.1,151.5 L349.6,151.7 L350.1,152.0 L350.6,152.3 L351.1,152.6 L351.6,152.9 L352.1,153.3 L352.6,153.6 L353.1,153.9 L353.6,154.3 L354.1,154.6 L354.6,155.0 L355.1,155.3 L355.6,155.7 L356.1,156.1 L356.6,156.4 L357.1,156.8 L357.6,157.2 L358.1,157.6 L358.6,157.9 L359.1,158.3 L359.6,158.7 L360.1,159.1 L360.6,159.5 L361.1,159.9 L361.6,160.3 L362.1,160.7 L362.6,161.1 L363.1,161.5 L363.6,162.0 L364.1,162.4 L364.6,162.8 L365.1,163.3 L365.6,163.7 L366.1,164.2 L366.6,164.6 L367.1,165.1 L367.6,165.5 L368.1,166.0 L368.6,166.4 L369.1,166.9 L369.6,167.4 L370.1,167.8 L370.6,168.3 L371.1,168.7 L371.6,169.2 L372.1,169.6 L372.6,170.1 L373.1,170.5 L373.6,170.9 L374.1,171.4 L374.6,171.8 L375.1,172.3 L375.6,172.7 L376.1,173.1 L376.6,173.6 L377.1,174.0 L377.6,174.4 L378.1,174.9 L378.6,175.3 L379.1,175.7 L379.6,176.2 L380.1,176.6 L380.6,177.0 L381.1,177.4 L381.6,177.9 L382.1,178.3 L382.6,178.7 L383.1,179.2 L383.6,179.6 L384.1,180.0 L384.6,180.5 L385.1,180.9 L385.6,181.3 L386.1,181.8 L386.6,182.2 L387.1,182.7 L387.6,183.1 L388.1,183.5 L388.6,184.0 L389.1,184.4 L389.6,184.8 L390.1,185.3 L390.6,185.7 L391.1,186.2 L391.6,186.6 L392.1,187.1 L392.6,187.5 L393.1,187.9 L393.6,188.4 L394.1,188.8 L394.6,189.3 L395.1,189.7 L395.6,190.2 L396.1,190.6 L396.6,191.1 L397.1,191.5 L397.6,191.9 L398.1,192.4 L398.6,192.8 L399.1,193.3 L399.6,193.7 L400.1,194.2 L400.6,194.6 L401.1,195.1 L401.6,195.5 L402.1,196.0 L402.6,196.4 L403.1,196.9 L403.6,197.3 L404.1,197.8 L404.6,198.2 L405.1,198.7 L405.6,199.1 L406.1,199.6 L406.6,200.1 L407.1,200.5 L407.6,201.0 L408.1,201.4 L408.6,201.9 L409.1,202.3 L409.6,202.8 L410.1,203.2 L410.5,203.6" stroke="#000" stroke-width="1.40" fill="none" stroke-linejoin="round"/>
<path d="M235.6,97.8 L236.1,99.1 L236.6,100.4 L237.1,101.6 L237.6,102.8 L238.1,103.9 L238.6,105.0 L239.1,106.0 L239.6,106.8 L240.1,107.6 L240.6,108.4 L241.1,109.1 L241.6,109.8 L242.1,110.4 L242.6,111.0 L243.1,111.6 L243.6,112.1 L244.1,112.7 L244.6,113.2 L245.1,113.7 L245.6,114.2 L246.1,114.7 L246.6,115.2 L247.1,115.7 L247.6,116.1 L248.1,116.5 L248.6,117.0 L249.1,117.4 L249.6,117.8 L250.1,118.1 L250.6,118.5 L251.1,118.9 L251.6,119.2 L252.1,119.6 L252.6,119.9 L253.1,120.3 L253.6,120.6 L254.1,120.9 L254.6,121.3 L255.1,121.6 L255.6,121.9 L256.1,122.2 L256.6,122.5 L257.1,122.8 L257.6,123.0 L258.1,123.3 L258.6,123.6 L259.1,123.8 L259.6,124.0 L260.1,124.3 L260.6,124.5 L261.1,124.7 L261.6,124.9 L262.1,125.1 L262.6,125.3 L263.1,125.5 L263.6,125.7 L264.1,125.9 L264.6,126.1 L265.1,126.3 L265.6,126.5 L266.1,126.6 L266.6,126.8 L267.1,127.0 L267.6,127.2 L268.1,127.3 L268.6,127.5 L269.1,127.7 L269.6,127.9 L270.1,128.1 L270.6,128.2 L271.1,128.4 L271.6,128.6 L272.1,128.7 L272.6,128.9 L273.1,129.1 L273.6,129.2 L274.1,129.4 L274.6,129.6 L275.1,129.7 L275.6,129.9 L276.1,130.1 L276.6,130.2 L277.1,130.4 L277.6,130.6 L278.1,130.8 L278.6,130.9 L279.1,131.1 L279.6,131.3 L280.1,131.5 L280.6,131.6 L281.1,131.8 L281.6,132.0 L282.1,132.2 L282.6,132.3 L283.1,132.5 L283.6,132.7 L284.1,132.9 L284.6,133.1 L285.1,133.3 L285.6,133.5 L286.1,133.7 L286.6,133.9 L287.1,134.1 L287.6,134.3 L288.1,134.5 L288.6,134.7 L289.1,135.0 L289.6,135.2 L290.1,135.5 L290.6,135.7 L291.1,136.0 L291.6,136.3 L292.1,136.5 L292.6,136.8 L293.1,137.1 L293.6,137.4 L294.1,137.7 L294.6,138.0 L295.1,138.3 L295.6,138.6 L296.1,138.9 L296.6,139.2 L297.1,139.5 L297.6,139.9 L298.1,140.2 L298.6,140.5 L299.1,140.8 L299.6,141.1 L300.1,141.5 L300.6,141.8 L301.1,142.1 L301.6,142.5 L302.1,142.8 L302.6,143.2 L303.1,143.5 L303.6,143.9 L304.1,144.3 L304.6,144.6 L305.1,145.0 L305.6,145.4 L306.1,145.7 L306.6,146.1 L307.1,146.5 L307.6,146.8 L308.1,147.2 L308.6,147.5 L309.1,147.9 L309.6,148.3 L310.1,148.6 L310.6,149.0 L311.1,149.3 L311.6,149.7 L312.1,150.0 L312.6,150.4 L313.1,150.7 L313.6,151.0 L314.1,151.4 L314.6,151.7 L315.1,152.1 L315.6,152.4 L316.1,152.8 L316.6,153.1 L317.1,153.5 L317.6,153.9 L318.1,154.2 L318.6,154.6 L319.1,154.9 L319.6,155.3 L320.1,155.6 L320.6,156.0 L321.1,156.3 L321.6,156.7 L322.1,157.1 L322.6,157.4 L323.1,157.8 L323.6,158.1 L324.1,158.5 L324.6,158.8 L325.1,159.2 L325.6,159.6 L326.1,159.9 L326.6,160.3 L327.1,160.7 L327.6,161.0 L328.1,161.4 L328.6,161.8 L329.1,162.1 L329.6,162.5 L330.1,162.9 L330.6,163.3 L331.1,163.6 L331.6,164.0 L332.1,164.4 L332.6,164.7 L333.1,165.1 L333.6,165.5 L334.1,165.9 L334.6,166.3 L335.1,166.6 L335.6,167.0 L336.1,167.4 L336.6,167.8 L337.1,168.2 L337.6,168.6 L338.1,169.0 L338.6,169.5 L339.1,169.9 L339.6,170.3 L340.1,170.7 L340.6,171.2 L341.1,171.6 L341.6,172.1 L342.1,172.5 L342.6,173.0 L343.1,173.5 L343.6,173.9 L344.1,174.4 L344.6,174.9 L345.1,175.3 L345.6,175.8 L346.1,176.3 L346.6,176.7 L347.1,177.2 L347.6,177.7 L348.1,178.1 L348.6,178.6 L349.1,179.1 L349.6,179.5 L350.1,180.0 L350.6,180.4 L351.1,180.9 L351.6,181.4 L352.1,181.8 L352.6,182.3 L353.1,182.7 L353.6,183.2 L354.1,183.7 L354.6,184.1 L355.1,184.6 L355.6,185.1 L356.1,185.5 L356.6,186.0 L357.1,186.4 L357.6,186.9 L358.1,187.4 L358.6,187.8 L359.1,188.3 L359.6,188.7 L360.1,189.2 L360.6,189.6 L361.1,190.1 L361.6,190.6 L362.1,191.0 L362.6,191.5 L363.1,191.9 L363.6,192.4 L364.1,192.8 L364.6,193.3 L365.1,193.7 L365.6,194.1 L366.1,194.6 L366.6,195.0 L367.1,195.5 L367.6,195.9 L368.1,196.4 L368.6,196.8 L369.1,197.3 L369.6,197.8 L370.1,198.2 L370.6,198.7 L371.1,199.1 L371.6,199.6 L372.1,200.1 L372.6,200.5 L373.1,201.0 L373.6,201.5 L374.1,201.9 L374.6,202.4 L375.1,202.9 L375.6,203.4 L376.1,203.8 L376.6,204.3 L377.1,204.8 L377.6,205.3 L378.1,205.8 L378.6,206.3 L379.1,206.7 L379.6,207.2 L380.1,207.7 L380.6,208.2 L381.1,208.7 L381.6,209.2 L382.1,209.7 L382.6,210.2 L383.1,210.7 L383.6,211.2 L384.1,211.6 L384.6,212.1 L385.1,212.6 L385.6,213.1 L386.1,213.6 L386.6,214.1 L387.1,214.6 L387.6,215.1 L388.1,215.6 L388.6,216.1 L389.1,216.6 L389.6,217.1 L390.1,217.6 L390.6,218.1 L391.1,218.6 L391.6,219.1 L392.1,219.6 L392.6,220.1 L393.1,220.6 L393.6,221.1 L394.1,221.6 L394.6,222.1 L395.1,222.6 L395.6,223.1 L396.1,223.6 L396.6,224.1 L397.1,224.6 L397.6,225.1 L398.1,225.6 L398.6,226.1 L399.1,226.6 L399.6,227.1 L400.1,227.6 L400.6,228.1 L401.1,228.6 L401.6,229.1 L402.1,229.6 L402.6,230.1 L403.1,230.6 L403.6,231.2 L404.1,231.7 L404.6,232.2 L405.1,232.7 L405.6,233.2 L406.1,233.7 L406.6,234.2 L407.1,234.7 L407.6,235.2 L408.1,235.7 L408.6,236.3 L409.1,236.8 L409.6,237.3 L410.1,237.8 L410.5,238.2" stroke="#ff0000" stroke-width="1.40" fill="none" stroke-linejoin="round"/>
<path d="M235.6,91.6 L236.1,92.5 L236.6,93.5 L237.1,94.4 L237.6,95.2 L238.1,96.1 L238.6,96.9 L239.1,97.6 L239.6,98.4 L240.1,99.0 L240.6,99.7 L241.1,100.3 L241.6,100.9 L242.1,101.5 L242.6,102.1 L243.1,102.6 L243.6,103.2 L244.1,103.7 L244.6,104.2 L245.1,104.7 L245.6,105.2 L246.1,105.6 L246.6,106.1 L247.1,106.5 L247.6,106.9 L248.1,107.4 L248.6,107.8 L249.1,108.2 L249.6,108.6 L250.1,108.9 L250.6,109.3 L251.1,109.7 L251.6,110.1 L252.1,110.5 L252.6,110.8 L253.1,111.2 L253.6,111.6 L254.1,111.9 L254.6,112.3 L255.1,112.6 L255.6,113.0 L256.1,113.3 L256.6,113.6 L257.1,114.0 L257.6,114.3 L258.1,114.6 L258.6,114.9 L259.1,115.2 L259.6,115.5 L260.1,115.8 L260.6,116.1 L261.1,116.3 L261.6,116.6 L262.1,116.9 L262.6,117.1 L263.1,117.4 L263.6,117.7 L264.1,117.9 L264.6,118.2 L265.1,118.4 L265.6,118.7 L266.1,118.9 L266.6,119.2 L267.1,119.4 L267.6,119.7 L268.1,119.9 L268.6,120.2 L269.1,120.5 L269.6,120.7 L270.1,121.0 L270.6,121.3 L271.1,121.5 L271.6,121.8 L272.1,122.1 L272.6,122.3 L273.1,122.6 L273.6,122.9 L274.1,123.1 L274.6,123.4 L275.1,123.7 L275.6,123.9 L276.1,124.2 L276.6,124.5 L277.1,124.8 L277.6,125.1 L278.1,125.4 L278.6,125.7 L279.1,126.0 L279.6,126.3 L280.1,126.6 L280.6,126.9 L281.1,127.2 L281.6,127.5 L282.1,127.9 L282.6,128.2 L283.1,128.5 L283.6,128.8 L284.1,129.2 L284.6,129.5 L285.1,129.8 L285.6,130.2 L286.1,130.5 L286.6,130.9 L287.1,131.2 L287.6,131.5 L288.1,131.9 L288.6,132.2 L289.1,132.5 L289.6,132.9 L290.1,133.2 L290.6,133.5 L291.1,133.8 L291.6,134.2 L292.1,134.5 L292.6,134.8 L293.1,135.1 L293.6,135.5 L294.1,135.8 L294.6,136.1 L295.1,136.5 L295.6,136.8 L296.1,137.1 L296.6,137.5 L297.1,137.9 L297.6,138.2 L298.1,138.6 L298.6,139.0 L299.1,139.4 L299.6,139.8 L300.1,140.2 L300.6,140.6 L301.1,141.0 L301.6,141.4 L302.1,141.9 L302.6,142.3 L303.1,142.8 L303.6,143.3 L304.1,143.7 L304.6,144.2 L305.1,144.7 L305.6,145.2 L306.1,145.7 L306.6,146.2 L307.1,146.7 L307.6,147.2 L308.1,147.7 L308.6,148.3 L309.1,148.8 L309.6,149.3 L310.1,149.9 L310.6,150.4 L311.1,151.0 L311.6,151.6 L312.1,152.2 L312.6,152.8 L313.1,153.4 L313.6,154.0 L314.1,154.6 L314.6,155.2 L315.1,155.8 L315.6,156.5 L316.1,157.1 L316.6,157.8 L317.1,158.4 L317.6,159.1 L318.1,159.7 L318.6,160.4 L319.1,161.0 L319.6,161.7 L320.1,162.4 L320.6,163.1 L321.1,163.7 L321.6,164.4 L322.1,165.1 L322.6,165.8 L323.1,166.5 L323.6,167.3 L324.1,168.0 L324.6,168.7 L325.1,169.4 L325.6,170.2 L326.1,170.9 L326.6,171.7 L327.1,172.4 L327.6,173.2 L328.1,173.9 L328.6,174.7 L329.1,175.5 L329.6,176.2 L330.1,177.0 L330.6,177.8 L331.1,178.6 L331.6,179.4 L332.1,180.2 L332.6,181.0 L333.1,181.8 L333.6,182.6 L334.1,183.4 L334.6,184.2 L335.1,185.1 L335.6,185.9 L336.1,186.8 L336.6,187.6 L337.1,188.5 L337.6,189.3 L338.1,190.2 L338.6,191.1 L339.1,192.0 L339.6,192.9 L340.1,193.8 L340.6,194.7 L341.1,195.6 L341.6,196.6 L342.1,197.5 L342.6,198.5 L343.1,199.4 L343.6,200.4 L344.1,201.3 L344.6,202.3 L345.1,203.2 L345.6,204.2 L346.1,205.2 L346.6,206.2 L347.1,207.1 L347.6,208.1 L348.1,209.1 L348.5,209.9 L349.0,210.4 L349.5,210.9 L350.0,211.4 L350.5,211.9 L351.0,212.4 L351.5,212.9 L352.0,213.4 L352.5,214.0 L353.0,214.5 L353.5,215.0 L354.0,215.5 L354.5,216.0 L355.0,216.5 L355.5,217.0 L356.0,217.5 L356.5,218.0 L357.0,218.6 L357.5,219.1 L358.0,219.6 L358.5,220.1 L359.0,220.6 L359.5,221.1 L360.0,221.7 L360.5,222.2 L361.0,222.7 L361.5,223.2 L362.0,223.7 L362.5,224.3 L363.0,224.8 L363.5,225.3 L364.0,225.8 L364.5,226.4 L365.0,226.9 L365.5,227.4 L366.0,227.9 L366.5,228.5 L367.0,229.0 L367.5,229.5 L368.0,230.0 L368.5,230.6 L369.0,231.1 L369.5,231.6 L370.0,232.1 L370.5,232.6 L371.0,233.2 L371.5,233.7 L372.0,234.2 L372.5,234.7 L373.0,235.2 L373.5,235.7 L374.0,236.2 L374.5,236.7 L375.0,237.2 L375.5,237.8 L376.0,238.3 L376.5,238.8 L377.0,239.3 L377.5,239.8 L378.0,240.3 L378.5,240.8 L379.0,241.3 L379.5,241.8 L380.0,242.3 L380.5,242.8 L381.0,243.3 L381.5,243.8 L382.0,244.3 L382.5,244.8 L383.0,245.3 L383.5,245.8 L384.0,246.3 L384.5,246.8 L385.0,247.3 L385.5,247.8 L386.0,248.3 L386.5,248.8 L387.0,249.3 L387.5,249.8 L388.0,250.3 L388.5,250.8 L389.0,251.3 L389.5,251.8 L390.0,252.3 L390.5,252.8 L391.0,253.3 L391.5,253.8 L392.0,254.3 L392.5,254.8 L393.0,255.3 L393.5,255.8 L394.0,256.3 L394.5,256.8 L395.0,257.4 L395.5,257.9 L396.0,258.4 L396.5,258.9 L397.0,259.4 L397.5,259.9 L398.0,260.4 L398.5,260.9 L399.0,261.4 L399.5,262.0 L400.0,262.5 L400.5,263.0 L401.0,263.5 L401.5,264.0 L402.0,264.5 L402.5,265.0 L403.0,265.6 L403.5,266.1 L404.0,266.6 L404.5,267.1 L405.0,267.6 L405.5,268.1 L406.0,268.6 L406.5,269.2 L407.0,269.7 L407.5,270.2 L408.0,270.7 L408.5,271.2 L409.0,271.7 L409.5,272.3 L410.0,272.8 L410.5,273.3" stroke="#008000" stroke-width="1.40" fill="none" stroke-linejoin="round"/>
<path d="M235.6,87.5 L236.1,88.3 L236.6,89.1 L237.1,89.9 L237.6,90.7 L238.1,91.5 L238.6,92.2 L239.1,92.9 L239.6,93.6 L240.1,94.2 L240.6,94.9 L241.1,95.5 L241.6,96.1 L242.1,96.6 L242.6,97.2 L243.1,97.8 L243.6,98.3 L244.1,98.8 L244.6,99.3 L245.1,99.8 L245.6,100.2 L246.1,100.7 L246.6,101.1 L247.1,101.5 L247.6,102.0 L248.1,102.4 L248.6,102.8 L249.1,103.2 L249.6,103.6 L250.1,103.9 L250.6,104.3 L251.1,104.7 L251.6,105.1 L252.1,105.4 L252.6,105.8 L253.1,106.2 L253.6,106.5 L254.1,106.9 L254.6,107.2 L255.1,107.5 L255.6,107.9 L256.1,108.2 L256.6,108.6 L257.1,108.9 L257.6,109.2 L258.1,109.6 L258.6,109.9 L259.1,110.2 L259.6,110.5 L260.1,110.8 L260.6,111.1 L261.1,111.4 L261.6,111.7 L262.1,112.0 L262.6,112.3 L263.1,112.6 L263.6,112.9 L264.1,113.2 L264.6,113.5 L265.1,113.8 L265.6,114.1 L266.1,114.4 L266.6,114.7 L267.1,115.0 L267.6,115.3 L268.1,115.6 L268.6,115.9 L269.1,116.2 L269.6,116.5 L270.1,116.8 L270.6,117.1 L271.1,117.5 L271.6,117.8 L272.1,118.1 L272.6,118.4 L273.1,118.8 L273.6,119.1 L274.1,119.4 L274.6,119.8 L275.1,120.1 L275.6,120.4 L276.1,120.8 L276.6,121.1 L277.1,121.4 L277.6,121.8 L278.1,122.1 L278.6,122.5 L279.1,122.8 L279.6,123.2 L280.1,123.5 L280.6,123.8 L281.1,124.2 L281.6,124.5 L282.1,124.9 L282.6,125.2 L283.1,125.6 L283.6,125.9 L284.1,126.3 L284.6,126.7 L285.1,127.0 L285.6,127.4 L286.1,127.7 L286.6,128.1 L287.1,128.4 L287.6,128.8 L288.1,129.2 L288.6,129.5 L289.1,129.9 L289.6,130.2 L290.1,130.6 L290.6,130.9 L291.1,131.3 L291.6,131.6 L292.1,132.0 L292.6,132.3 L293.1,132.7 L293.6,133.1 L294.1,133.5 L294.6,133.9 L295.1,134.3 L295.6,134.7 L296.1,135.1 L296.6,135.6 L297.1,136.0 L297.6,136.5 L298.1,137.0 L298.6,137.5 L299.1,138.0 L299.6,138.5 L300.1,139.0 L300.6,139.6 L301.1,140.2 L301.6,140.8 L302.1,141.4 L302.6,142.0 L303.1,142.6 L303.6,143.2 L304.1,143.8 L304.6,144.5 L305.1,145.1 L305.6,145.8 L306.1,146.4 L306.6,147.1 L307.1,147.8 L307.6,148.4 L308.1,149.1 L308.6,149.7 L309.1,150.4 L309.6,151.1 L310.1,151.7 L310.6,152.4 L311.1,153.1 L311.6,153.7 L312.1,154.4 L312.6,155.1 L313.1,155.8 L313.6,156.5 L314.1,157.2 L314.6,157.9 L315.1,158.6 L315.6,159.3 L316.1,160.0 L316.6,160.7 L317.1,161.4 L317.6,162.2 L318.1,162.9 L318.6,163.6 L319.1,164.3 L319.6,165.1 L320.1,165.8 L320.6,166.5 L321.1,167.2 L321.6,168.0 L322.1,168.7 L322.6,169.5 L323.1,170.2 L323.6,171.0 L324.1,171.8 L324.6,172.5 L325.1,173.3 L325.6,174.2 L326.1,175.0 L326.6,175.9 L327.1,176.7 L327.6,177.6 L328.1,178.5 L328.6,179.4 L329.1,180.4 L329.6,181.4 L330.1,182.4 L330.6,183.4 L331.1,184.5 L331.6,185.6 L332.1,186.8 L332.6,187.9 L333.1,189.2 L333.6,190.4 L334.1,191.7 L334.6,193.0 L335.1,194.3 L335.6,195.6 L336.1,197.0 L336.6,198.4 L337.1,199.9 L337.6,201.5 L338.1,203.1 L338.6,204.8 L339.1,206.7 L339.6,208.6 L340.1,210.6 L340.6,212.7 L341.1,215.0 L341.6,217.5 L342.1,220.2 L342.6,223.3 L343.1,226.6 L343.6,230.4 L344.1,234.9 L344.6,239.6 L345.1,243.7 L345.6,247.0 L346.1,250.1 L346.6,253.0 L347.1,255.6 L347.6,258.0 L348.1,260.0 L348.6,261.6 L349.1,262.1 L349.6,262.7 L350.1,263.2 L350.6,263.7 L351.1,264.3 L351.6,264.8 L352.1,265.3 L352.6,265.9 L353.1,266.4 L353.6,267.0 L354.1,267.5 L354.6,268.0 L355.1,268.6 L355.6,269.1 L356.1,269.6 L356.6,270.2 L357.1,270.7 L357.6,271.2 L358.1,271.8 L358.6,272.3 L359.1,272.8 L359.6,273.4 L360.1,273.9 L360.6,274.4 L361.1,275.0 L361.6,275.5 L362.1,276.0 L362.6,276.5 L363.1,277.1 L363.6,277.6 L364.1,278.1 L364.6,278.7 L365.1,279.2 L365.6,279.7 L366.1,280.3 L366.6,280.8 L367.1,281.3 L367.6,281.9 L368.1,282.4 L368.6,282.9 L369.1,283.5 L369.6,284.0 L370.1,284.5 L370.6,285.0 L371.1,285.6 L371.6,286.1 L372.1,286.6 L372.6,287.2 L373.1,287.7 L373.6,288.2 L374.1,288.8 L374.6,289.3 L375.1,289.8 L375.6,290.3 L376.1,290.9 L376.6,291.4 L377.1,291.9 L377.6,292.5 L378.1,293.0 L378.6,293.5 L379.1,294.0 L379.6,294.6 L380.1,295.1 L380.6,295.6 L381.1,296.1 L381.6,296.7 L382.1,297.2 L382.6,297.7 L383.1,298.2 L383.6,298.8 L384.1,299.3 L384.6,299.8 L385.1,300.4 L385.6,300.9 L386.0,301.3" stroke="#0000ff" stroke-width="1.40" fill="none" stroke-linejoin="round"/>
<rect x="233.60" y="105.80" width="5.6" height="5.6" fill="none" stroke="#000" stroke-width="0.65"/>
<circle cx="236.40" cy="100.40" r="3.1" fill="none" stroke="#ff0000" stroke-width="0.65"/>
<path d="M236.40,90.70 L239.80,97.20 L233.00,97.20 Z" fill="none" stroke="#008000" stroke-width="0.65"/>
<path d="M232.70,89.70 H239.70 M236.20,86.20 V93.20" fill="none" stroke="#0000ff" stroke-width="0.65"/>
<rect x="370.40" y="167.90" width="5.6" height="5.6" fill="none" stroke="#000" stroke-width="0.65"/>
<circle cx="373.00" cy="200.80" r="3.1" fill="none" stroke="#ff0000" stroke-width="0.65"/>
<path d="M372.40,231.50 L375.80,238.00 L369.00,238.00 Z" fill="none" stroke="#008000" stroke-width="0.65"/>
<path d="M369.70,287.90 H376.70 M373.20,284.40 V291.40" fill="none" stroke="#0000ff" stroke-width="0.65"/>
</g>
<path d="M56.32,317.40 L55.09,317.40 L55.09,309.56 Q54.65,309.98 53.93,310.41 Q53.21,310.83 52.63,311.04 L52.63,309.85 Q53.66,309.37 54.44,308.68 Q55.21,307.99 55.53,307.34 L56.32,307.34 Z" fill="#000" stroke="#000" stroke-width="0.30" stroke-linejoin="round"/><text x="122.18" y="317.40" font-size="14.00" style="stroke-width:0.30px">2</text><text x="163.76" y="317.40" font-size="14.00" style="stroke-width:0.30px">3</text><text x="193.25" y="317.40" font-size="14.00" style="stroke-width:0.30px">4</text><text x="216.13" y="317.40" font-size="14.00" style="stroke-width:0.30px">5</text>
<path d="M237.22,317.40 L235.99,317.40 L235.99,309.56 Q235.55,309.98 234.83,310.41 Q234.11,310.83 233.53,311.04 L233.53,309.85 Q234.56,309.37 235.34,308.68 Q236.11,307.99 236.43,307.34 L237.22,307.34 Z" fill="#000" stroke="#000" stroke-width="0.30" stroke-linejoin="round"/><text x="303.08" y="317.40" font-size="14.00" style="stroke-width:0.30px">2</text><text x="344.66" y="317.40" font-size="14.00" style="stroke-width:0.30px">3</text><text x="374.15" y="317.40" font-size="14.00" style="stroke-width:0.30px">4</text><text x="397.03" y="317.40" font-size="14.00" style="stroke-width:0.30px">5</text>
<path d="M33.66,18.30 L32.43,18.30 L32.43,10.46 Q31.99,10.88 31.26,11.31 Q30.54,11.73 29.97,11.94 L29.97,10.75 Q31.00,10.27 31.77,9.58 Q32.55,8.89 32.87,8.24 L33.66,8.24 Z" fill="#000" stroke="#000" stroke-width="0.30" stroke-linejoin="round"/><text x="36.23" y="18.30" font-size="14.00" style="stroke-width:0.30px">0</text>
<text x="44.02" y="10.40" font-size="9.50" style="stroke-width:0.15px">0</text>
<path d="M30.50,143.60 L29.27,143.60 L29.27,135.76 Q28.82,136.18 28.10,136.61 Q27.38,137.03 26.80,137.24 L26.80,136.05 Q27.84,135.57 28.61,134.88 Q29.38,134.19 29.70,133.54 L30.50,133.54 Z" fill="#000" stroke="#000" stroke-width="0.30" stroke-linejoin="round"/><text x="33.07" y="143.60" font-size="14.00" style="stroke-width:0.30px">0</text>
<text x="40.85" y="136.10" font-size="9.50" style="stroke-width:0.15px">-</text><path d="M47.56,136.10 L46.72,136.10 L46.72,130.78 Q46.42,131.07 45.93,131.35 Q45.44,131.64 45.05,131.79 L45.05,130.98 Q45.75,130.65 46.28,130.18 Q46.80,129.71 47.02,129.27 L47.56,129.27 Z" fill="#000" stroke="#000" stroke-width="0.15" stroke-linejoin="round"/>
<path d="M30.50,268.50 L29.27,268.50 L29.27,260.66 Q28.82,261.08 28.10,261.51 Q27.38,261.93 26.80,262.14 L26.80,260.95 Q27.84,260.47 28.61,259.78 Q29.38,259.09 29.70,258.44 L30.50,258.44 Z" fill="#000" stroke="#000" stroke-width="0.30" stroke-linejoin="round"/><text x="33.07" y="268.50" font-size="14.00" style="stroke-width:0.30px">0</text>
<text x="40.85" y="261.00" font-size="9.50" style="stroke-width:0.15px">-2</text>
<text x="142.6" y="336.2" font-size="15" font-style="italic" text-anchor="middle">r/a</text>
<text x="322.8" y="336.2" font-size="15" font-style="italic" text-anchor="middle">r/a</text>
<g transform="translate(15.8,174) rotate(-90)"><text x="0" y="0" font-size="15" font-style="italic">v/B</text><g transform="translate(22.27,5.3) skewX(-12)"><path d="M3.54,0.00 L2.70,0.00 L2.70,-5.32 Q2.40,-5.03 1.91,-4.75 Q1.42,-4.46 1.03,-4.31 L1.03,-5.12 Q1.73,-5.45 2.26,-5.92 Q2.78,-6.39 3.00,-6.83 L3.54,-6.83 Z" fill="#000" stroke="#000" stroke-width="0.15" stroke-linejoin="round"/></g></g>
<text x="60.3" y="32.1" font-size="16.5">(e)</text>
<text x="242.0" y="30.9" font-size="16.5">(f)</text>
<text x="124.5" y="48.2" font-size="13.5">inside</text>
<text x="176.6" y="48.2" font-size="13.5">outside</text>
<text x="304" y="48.2" font-size="13.5">inside</text>
<text x="357" y="48.2" font-size="13.5">outside</text>
<text x="195.8" y="106.8" font-size="18" font-style="italic">r</text><text class="s" x="204.2" y="98.6" font-size="10.5">-2</text>
<text x="377.4" y="147.5" font-size="18" font-style="italic">r</text><text class="s" x="385.7" y="139.2" font-size="10.5">-2</text>
<path d="M82.1,227.5 H112.4" stroke="#000" stroke-width="1.1" fill="none"/>
<rect x="95.10" y="224.70" width="5.6" height="5.6" fill="none" stroke="#000" stroke-width="0.65"/>
<text class="l" x="116.8" y="232.3" font-size="11.5" font-style="italic">σ</text>
<text class="l" x="126.8" y="232.3" font-size="13.5">=</text>
<text x="137.60" y="232.30" font-size="13.50" style="stroke-width:0.20px">0.</text><path d="M153.89,232.30 L152.70,232.30 L152.70,224.74 Q152.27,225.15 151.58,225.56 Q150.88,225.97 150.33,226.17 L150.33,225.02 Q151.32,224.55 152.07,223.89 Q152.81,223.22 153.12,222.60 L153.89,222.60 Z" fill="#000" stroke="#000" stroke-width="0.20" stroke-linejoin="round"/>
<path d="M82.1,244.1 H112.4" stroke="#ff0000" stroke-width="1.1" fill="none"/>
<circle cx="97.90" cy="244.10" r="3.1" fill="none" stroke="#ff0000" stroke-width="0.65"/>
<text class="l" x="116.8" y="248.9" font-size="11.5" font-style="italic">σ</text>
<text class="l" x="126.8" y="248.9" font-size="13.5">=</text>
<path d="M142.63,248.90 L141.44,248.90 L141.44,241.34 Q141.01,241.75 140.32,242.16 Q139.62,242.57 139.07,242.77 L139.07,241.62 Q140.07,241.15 140.81,240.49 Q141.56,239.82 141.86,239.20 L142.63,239.20 Z" fill="#000" stroke="#000" stroke-width="0.20" stroke-linejoin="round"/>
<path d="M82.1,260.3 H112.4" stroke="#008000" stroke-width="1.1" fill="none"/>
<path d="M97.90,256.60 L101.30,263.10 L94.50,263.10 Z" fill="none" stroke="#008000" stroke-width="0.65"/>
<text class="l" x="116.8" y="265.1" font-size="11.5" font-style="italic">σ</text>
<text class="l" x="126.8" y="265.1" font-size="13.5">=</text>
<text x="137.60" y="265.10" font-size="13.50" style="stroke-width:0.20px">3</text>
<path d="M82.1,276.9 H112.4" stroke="#0000ff" stroke-width="1.1" fill="none"/>
<path d="M94.40,276.90 H101.40 M97.90,273.40 V280.40" fill="none" stroke="#0000ff" stroke-width="0.65"/>
<text class="l" x="116.8" y="281.7" font-size="11.5" font-style="italic">σ</text>
<text class="l" x="126.8" y="281.7" font-size="13.5">=</text>
<path d="M142.63,281.70 L141.44,281.70 L141.44,274.14 Q141.01,274.55 140.32,274.96 Q139.62,275.37 139.07,275.57 L139.07,274.42 Q140.07,273.95 140.81,273.29 Q141.56,272.62 141.86,272.00 L142.63,272.00 Z" fill="#000" stroke="#000" stroke-width="0.20" stroke-linejoin="round"/><text x="145.11" y="281.70" font-size="13.50" style="stroke-width:0.20px">0</text>
</svg>
</body></html>
